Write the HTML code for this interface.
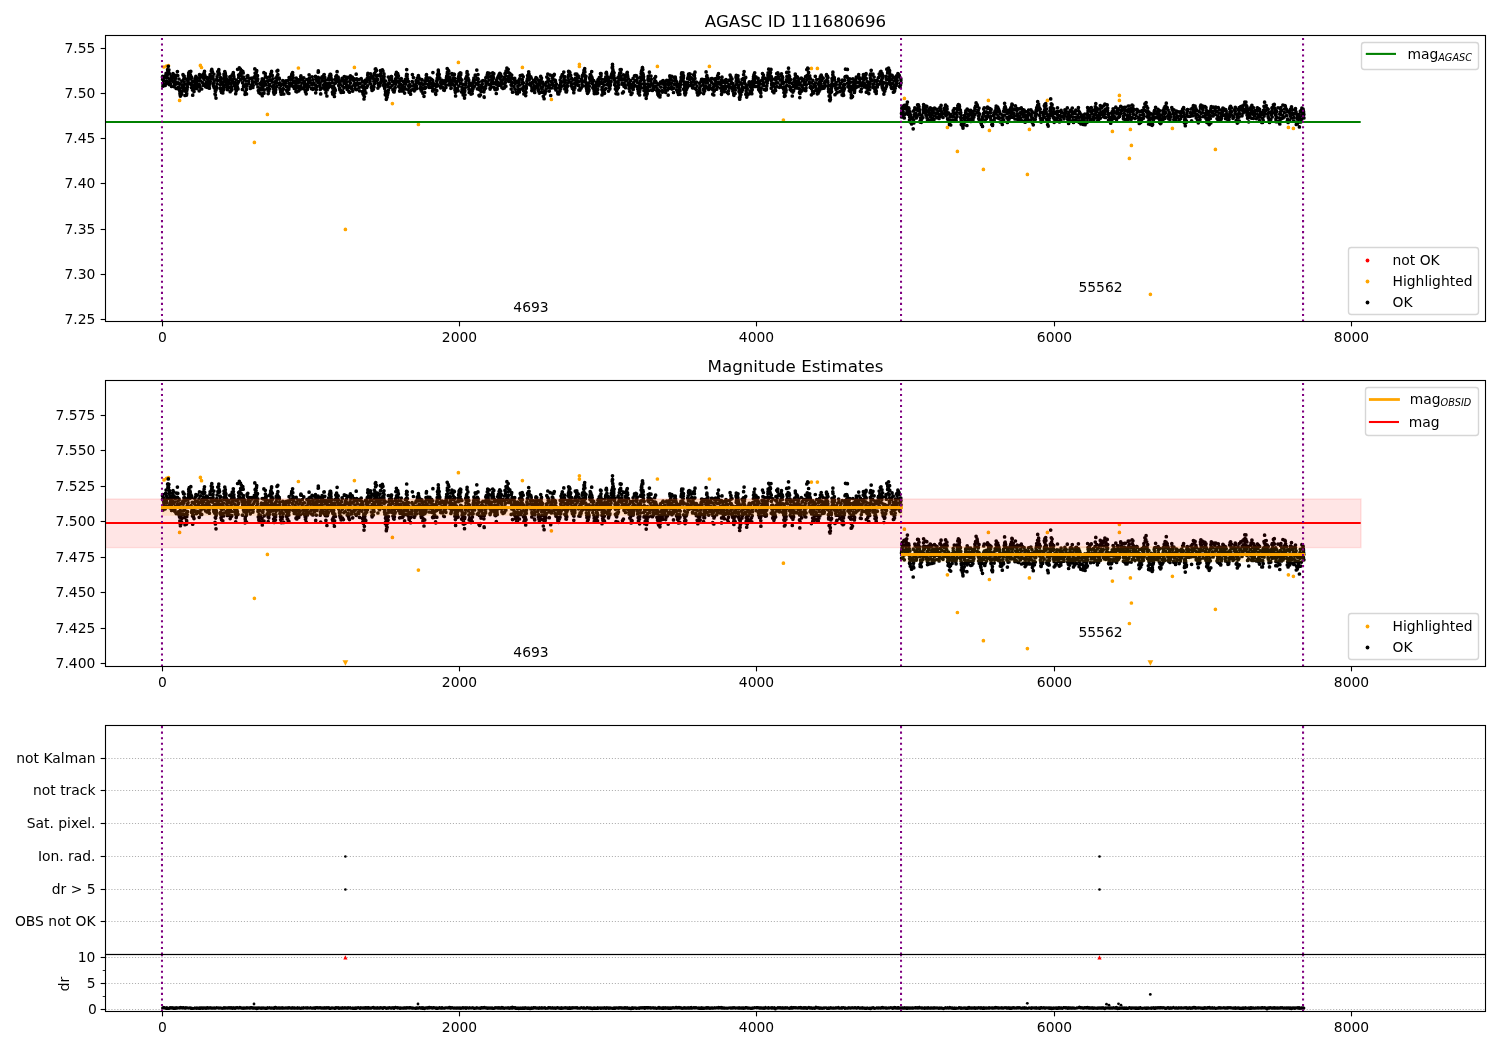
<!DOCTYPE html><html><head><meta charset="utf-8"><style>html,body{margin:0;padding:0;background:#fff}svg{display:block;will-change:transform}</style></head><body>
<svg width="1500" height="1050" viewBox="0 0 1500 1050" style="font-family:'DejaVu Sans',sans-serif">
<defs><clipPath id="c1"><rect x="105.5" y="35.5" width="1380" height="286"/></clipPath><clipPath id="c2"><rect x="105.5" y="380.5" width="1380" height="286"/></clipPath><clipPath id="c3"><rect x="105.5" y="725.5" width="1380" height="229"/></clipPath><clipPath id="c4"><rect x="105.5" y="954.5" width="1380" height="57"/></clipPath></defs>
<rect width="1500" height="1050" fill="#fff"/>
<text x="795.5" y="26.9" text-anchor="middle" font-size="16.67">AGASC ID 111680696</text>
<g clip-path="url(#c1)">
<path transform="scale(.1)" fill="none" stroke="#ffa500" stroke-width="37.0" stroke-linecap="round" d="M1640 670h0m25-10h0m20-5h0m111 349h0m208-350h0m11 21h0m529 749h0m130-280h0m310-464h0m470 1614h0m90-1620h0m380 362h0m260 208h0m400-620h0m640 50h0m290 320h0m280-350h0m0 21h0m780-1h0m520 0h0m740 536h0m280-516h0m60 0h0m870 300h0m430 290h0m100 240h0m260 180h0m50-690h0m10 300h0m380 440h0m20-450h0m180-290h0m650 310h0m70-360h0m0 50h0m110 290h0m10 160h0m-20 130h0m210 1359h0m220-1659h0m430 210h0m730-220h0m50 10h0"/>
<path transform="scale(.1)" fill="none" stroke="#000" stroke-width="37.0" stroke-linecap="round" d="M1625 771h0m1 22h0m1-30h0m2 99h0m2-14h0m3-16h0m2-24h0m14-30h0m2 76h0m4-99h0m5-21h0m3 102h0m3-23h0m5-61h0m1 25h0m3-80h0m3 19h0m4-53h0m3 55h0m3-20h0m4 148h0m1-109h0m1 52h0m2 34h0m8 19h0m6-42h0m1-36h0m4 101h0m13-88h0m1-40h0m2 77h0m6-67h0m6 92h0m3 30h0m4-19h0m2-62h0m2-10h0m4 40h0m3 66h0m3-130h0m9-38h0m4 39h0m4 79h0m2-6h0m3 43h0m3-81h0m1 106h0m5 10h0m2-68h0m1 93h0m2 16h0m3 14h0m6-10h0m3-72h0m3 39h0m1 23h0m1-130h0m2 37h0m6 23h0m2-66h0m2-58h0m5 10h0m1 132h0m3-105h0m1 31h0m1 31h0m1-86h0m3 23h0m2 127h0m2-28h0m1 73h0m15-4h0m1-23h0m1 9h0m1-33h0m1-65h0m1 36h0m1 16h0m1-91h0m3 72h0m3-85h0m3 28h0m3-54h0m1 77h0m2-108h0m1 12h0m5-23h0m3 69h0m3-49h0m4 8h0m5-34h0m1 124h0m1-72h0m3 17h0m1 65h0m1 29h0m1-104h0m6 41h0m3 86h0m2 53h0m9-134h0m2 37h0m2 61h0m5-30h0m4-96h0m3 62h0m4-75h0m3-14h0m3 58h0m3 63h0m7-76h0m6 63h0m4-29h0m5-64h0m5 130h0m2-61h0m1-101h0m5 126h0m4-63h0m2-38h0m11 119h0m6-140h0m3 75h0m6 28h0m2-76h0m5 15h0m2-63h0m4-15h0m2 35h0m5 96h0m5 23h0m6-49h0m2-46h0m1 71h0m5 29h0m3-87h0m12 27h0m5 49h0m1-10h0m2 30h0m4-44h0m1-76h0m2-16h0m4 63h0m3-22h0m5-78h0m4 18h0m1-33h0m6 22h0m5 50h0m2 19h0m2 52h0m1 20h0m4 14h0m1-130h0m3 68h0m4 72h0m4 59h0m3-31h0m1 41h0m2-37h0m4 68h0m1-84h0m1-4h0m1-28h0m3 11h0m2-86h0m2 47h0m1-71h0m5 39h0m2-89h0m2 27h0m6-32h0m2-14h0m3 34h0m5 12h0m5 141h0m1-36h0m2-54h0m1-18h0m3 47h0m2 88h0m6 13h0m3-40h0m9 46h0m3-100h0m3-13h0m1 82h0m1-44h0m1-69h0m1 94h0m2-139h0m1 16h0m7-41h0m5 16h0m1 19h0m5 62h0m1-53h0m3 27h0m2 55h0m5 24h0m3 30h0m2-77h0m10-19h0m3 41h0m5 35h0m5-107h0m3 62h0m1 86h0m2-150h0m2 73h0m8 62h0m1-105h0m2 74h0m1 27h0m1-74h0m3-76h0m3 50h0m8-71h0m1 16h0m4 21h0m2 18h0m1 61h0m5 12h0m1-32h0m7 64h0m3 50h0m5-27h0m1-110h0m8 44h0m3 28h0m2-179h0m1 140h0m3 56h0m5-70h0m1-69h0m1 23h0m6-94h0m4 64h0m7-53h0m1 108h0m1-73h0m6 33h0m2-54h0m8 86h0m2 104h0m2-66h0m2-115h0m4 16h0m2 41h0m1 92h0m3-10h0m4-4h0m3-51h0m5 146h0m2-25h0m8-107h0m2 74h0m1-38h0m1 48h0m1 44h0m3-79h0m3-98h0m2 12h0m5-19h0m6 57h0m2 24h0m12-53h0m5 102h0m1-15h0m12-18h0m4-70h0m2 29h0m3 17h0m4 47h0m3-19h0m5-35h0m7-53h0m4-79h0m1 92h0m2-50h0m5 17h0m5-10h0m1 67h0m2 33h0m1-120h0m2-11h0m7 99h0m1-49h0m3 34h0m1 79h0m4 36h0m5 12h0m1 8h0m9-89h0m5 99h0m1-55h0m4-36h0m6-27h0m3 80h0m5-109h0m1 168h0m4-20h0m2-65h0m6-81h0m2 48h0m2-112h0m1 205h0m2-33h0m2-47h0m1-31h0m8-85h0m1 24h0m7 89h0m7-75h0m1 37h0m3 75h0m6-68h0m3 87h0m1 31h0m6-25h0m2-108h0m3 55h0m1 31h0m2-121h0m1 77h0m9-45h0m1-60h0m8-19h0m1-7h0m5 107h0m2-67h0m3 112h0m3-78h0m4 101h0m1-34h0m2 64h0m3 14h0m3 8h0m3-69h0m8-41h0m1 95h0m1-111h0m1 90h0m2-14h0m4-116h0m1 32h0m2 21h0m3 35h0m2-152h0m3 48h0m5-55h0m1 41h0m4 30h0m9 6h0m2 10h0m1 55h0m3-18h0m1 55h0m6 20h0m2 19h0m2-69h0m3 89h0m9-23h0m3-14h0m4-99h0m3 33h0m1 46h0m6 55h0m2-89h0m17-22h0m2-20h0m4 92h0m2-37h0m8 55h0m3-114h0m6 127h0m6-40h0m1 42h0m1-59h0m1-98h0m1 59h0m6 23h0m4-62h0m9 33h0m3-70h0m4-18h0m2 94h0m6-110h0m2 25h0m1 24h0m2 90h0m4-59h0m8 78h0m7-54h0m7 26h0m1 27h0m2 31h0m2-134h0m3 34h0m3 104h0m7-91h0m3-30h0m8 63h0m2 48h0m4-22h0m2-65h0m3-23h0m7 93h0m2-32h0m1-92h0m2-8h0m12 71h0m3-35h0m8 89h0m6-106h0m5 84h0m2-46h0m3 22h0m3 65h0m4 17h0m3-10h0m4 28h0m4-69h0m3-74h0m6 98h0m2-54h0m9-28h0m4 55h0m1-118h0m1 36h0m7 22h0m10 26h0m7 55h0m3-42h0m2-77h0m3 112h0m4 13h0m2-95h0m10 32h0m2 57h0m10-35h0m3-88h0m2 164h0m3-142h0m3 108h0m5-87h0m2 58h0m10-38h0m1-54h0m1-51h0m1-13h0m1 11h0m4 90h0m5-30h0m7 70h0m1-18h0m1 63h0m3-18h0m2 62h0m14-170h0m2 33h0m6 77h0m1-70h0m6 40h0m3-101h0m3-2h0m6 28h0m1 118h0m5-59h0m1 64h0m2-37h0m1-60h0m1 128h0m10 32h0m5-63h0m1-62h0m3 52h0m3-7h0m2-3h0m1-23h0m3-70h0m3 15h0m4-37h0m2 75h0m5-94h0m5 0h0m3 11h0m1 21h0m3 89h0m6-67h0m3 29h0m2 96h0m3 19h0m1-59h0m4 31h0m5-50h0m5-33h0m2 135h0m2-34h0m1-98h0m1 54h0m4-93h0m2 109h0m1-72h0m3-64h0m5 43h0m3-55h0m5-38h0m11 55h0m4 25h0m1 57h0m5-27h0m3 52h0m2 16h0m3 7h0m2-60h0m1 68h0m5-10h0m3 24h0m4-116h0m6-24h0m4 128h0m1-52h0m8 62h0m5-44h0m1-46h0m3-66h0m3 37h0m3-35h0m11 2h0m3 24h0m1 73h0m1-23h0m4-24h0m3 74h0m8-120h0m1 108h0m8 33h0m1-57h0m5 64h0m5-115h0m4-48h0m1 72h0m3-40h0m4 77h0m4 18h0m7-114h0m4 139h0m11-103h0m1 41h0m3-60h0m4 48h0m4 26h0m2 24h0m1-49h0m9-96h0m1 154h0m4-108h0m4 13h0m5 32h0m4 14h0m10 28h0m2-80h0m3 113h0m4-74h0m13-47h0m5 81h0m6 47h0m1-95h0m1 38h0m2-46h0m2 123h0m5 13h0m4-61h0m2 103h0m1-122h0m3 97h0m4-63h0m2-69h0m6-33h0m2 129h0m7-108h0m2 54h0m5-78h0m1-15h0m2 76h0m2-107h0m2-18h0m15 46h0m5 52h0m2-19h0m4-73h0m3 101h0m3-59h0m3 93h0m4-112h0m1 135h0m2 8h0m12-12h0m3-107h0m1 75h0m1-49h0m2 58h0m3-135h0m3 100h0m4-90h0m1 7h0m2-60h0m3 21h0m1-25h0m5 118h0m2-102h0m1 83h0m11-34h0m1 40h0m2 88h0m2-50h0m3 17h0m12 12h0m4-100h0m4-54h0m1 32h0m3 90h0m2-13h0m5-27h0m9-90h0m6 12h0m2 142h0m1-89h0m5 19h0m1 10h0m1-53h0m1 25h0m2 55h0m2 56h0m3 12h0m3-43h0m2 103h0m1-5h0m1-28h0m2-104h0m6 183h0m1-32h0m2 22h0m5-12h0m5-25h0m3-80h0m2 60h0m1-82h0m1-74h0m1 133h0m4-73h0m5 0h0m2-37h0m1 5h0m7 76h0m8-107h0m4 25h0m1-25h0m4 87h0m6-38h0m3 84h0m7 16h0m2-28h0m3 31h0m3-14h0m4-66h0m2 43h0m1-69h0m1 62h0m2-85h0m3 52h0m1-98h0m6-21h0m1 49h0m12-35h0m1 4h0m1 76h0m2-36h0m3-22h0m3 107h0m7-33h0m2 78h0m4-28h0m2 27h0m3-67h0m3-42h0m5-16h0m5 94h0m4-24h0m1 55h0m7-7h0m2-87h0m11 15h0m1 39h0m2 61h0m7-137h0m4 96h0m1-52h0m4-20h0m2-58h0m2-17h0m1-47h0m3 68h0m2-18h0m2 42h0m8 110h0m1-37h0m1-47h0m7 109h0m2-50h0m5-28h0m7 63h0m1 34h0m1-82h0m14-45h0m3-69h0m1 150h0m1-77h0m6 39h0m2-82h0m6 73h0m3 59h0m5-9h0m2-12h0m11-81h0m1 30h0m3 28h0m5 20h0m3-104h0m9 38h0m2-61h0m4 17h0m9 65h0m1-50h0m8 97h0m1-15h0m4 31h0m1-74h0m2 81h0m5-112h0m10 135h0m3-81h0m4 35h0m4 77h0m1-121h0m6 83h0m1-40h0m1-76h0m7 67h0m1-40h0m3-53h0m3-30h0m2-8h0m8 57h0m5-23h0m4 70h0m9-13h0m1 38h0m2-59h0m5-34h0m7 58h0m9 34h0m1-80h0m5 84h0m5 31h0m1-105h0m1 107h0m1-184h0m1 132h0m1-31h0m16 71h0m9 39h0m2 6h0m2-103h0m2 27h0m5-56h0m1 96h0m1-94h0m1-11h0m2-19h0m2 62h0m1-100h0m3 16h0m4-27h0m1-32h0m1 19h0m5 39h0m3-16h0m2 114h0m1-68h0m3-9h0m8 43h0m1 54h0m1-27h0m13-47h0m6 2h0m1 70h0m3-39h0m6 63h0m6 3h0m1-95h0m9 15h0m6 53h0m1-22h0m4-74h0m2 31h0m1-49h0m5-77h0m1 51h0m1-14h0m6 34h0m2-55h0m2 33h0m4-22h0m1 78h0m1 53h0m3 7h0m3-35h0m2-39h0m7 23h0m4 84h0m2-38h0m1 35h0m7-145h0m1 12h0m1 74h0m12-15h0m1-26h0m4 69h0m2-108h0m4 3h0m1 38h0m2 79h0m2 40h0m1-18h0m2-70h0m2 110h0m2 36h0m10-122h0m5 72h0m3-24h0m6-98h0m1 120h0m2-99h0m3-42h0m2 95h0m1-104h0m2-16h0m4-5h0m7 40h0m1-48h0m3 103h0m1-84h0m1-16h0m3 63h0m1 40h0m4 85h0m3-118h0m1 71h0m1 23h0m10 46h0m1 8h0m7-106h0m6 138h0m1-64h0m2-9h0m2 40h0m1-67h0m4-33h0m2-61h0m2 49h0m1-20h0m1-20h0m4-28h0m3-6h0m2-32h0m1-13h0m8 29h0m2 36h0m2 85h0m5-66h0m1 91h0m3 32h0m1-70h0m2-25h0m12 26h0m3 86h0m4-42h0m8 37h0m2-30h0m1-39h0m1-35h0m5 53h0m1-66h0m4-17h0m3-22h0m4 26h0m3 55h0m6-109h0m3 7h0m7 77h0m6-135h0m2 95h0m3 92h0m5-103h0m2-39h0m1 100h0m1-55h0m4 31h0m2 55h0m2 76h0m4-57h0m2 63h0m8-11h0m6-35h0m4-61h0m1 27h0m4-67h0m4 29h0m2 32h0m5-66h0m9 111h0m2 51h0m1 4h0m1-76h0m11-86h0m1 62h0m1 8h0m2-103h0m1 77h0m1-17h0m3-68h0m9 53h0m1-77h0m4-18h0m7 41h0m5 31h0m4-66h0m1 113h0m6 37h0m1 7h0m3-8h0m6-17h0m1-100h0m2 63h0m7-43h0m3 49h0m1-29h0m3-78h0m1 21h0m3 10h0m1 13h0m4 7h0m2-42h0m1 136h0m7-38h0m2-7h0m1 65h0m6 4h0m8 38h0m2-133h0m2 42h0m4 36h0m1 11h0m5-114h0m3 47h0m4-62h0m1 90h0m6-107h0m7-12h0m1 98h0m5-40h0m2-49h0m4 110h0m3-89h0m4 50h0m2 62h0m7-39h0m4 48h0m3-89h0m9 84h0m2-107h0m3 101h0m3-136h0m2 119h0m1-32h0m2-68h0m4 106h0m1-150h0m5 82h0m4-113h0m12 42h0m1-30h0m2 71h0m3 49h0m9-33h0m2-47h0m8 80h0m5 34h0m1 43h0m3-36h0m2-103h0m3 75h0m1-45h0m4 141h0m15-57h0m1-68h0m6-14h0m2 108h0m2-53h0m2-14h0m7 96h0m6 16h0m7-126h0m2 127h0m4-73h0m3 30h0m1-65h0m8-8h0m3 98h0m2-130h0m4 61h0m3-94h0m6 134h0m13-140h0m1 46h0m2 24h0m4 15h0m1 43h0m2-111h0m2 62h0m1 76h0m3-38h0m1 72h0m14-31h0m4 48h0m3-33h0m3-40h0m1-19h0m4-22h0m1-29h0m1-6h0m4-19h0m2-33h0m3 11h0m6-22h0m2-26h0m4 24h0m2 54h0m3 47h0m7-12h0m5-62h0m2 86h0m2-75h0m6 126h0m1-30h0m1 7h0m4-52h0m1-7h0m10-20h0m11 55h0m1 66h0m2-33h0m8-70h0m1-39h0m2-6h0m8 6h0m5 92h0m3-30h0m7-44h0m1 106h0m3-9h0m3 22h0m4 11h0m1-108h0m2 26h0m6-11h0m4-74h0m3 110h0m2-82h0m3-11h0m1 140h0m6-33h0m4-68h0m1 49h0m6 94h0m3-37h0m2-82h0m3 143h0m7-75h0m1 26h0m3-10h0m6-15h0m3-24h0m1-33h0m2-33h0m4-53h0m9 11h0m1-41h0m3 77h0m1-18h0m4-8h0m3 83h0m4 37h0m1-62h0m8-98h0m5 204h0m7-75h0m1-66h0m5 28h0m3-62h0m3 55h0m2-52h0m2-27h0m5 97h0m3-98h0m5-11h0m2 56h0m4 83h0m4-80h0m2 12h0m4 84h0m1-25h0m5-32h0m13 82h0m1 14h0m8 2h0m3-61h0m3 40h0m4-63h0m3 51h0m2-107h0m4 43h0m1-19h0m1 61h0m2-112h0m2 94h0m6-107h0m5-14h0m1 1h0m7 72h0m7-98h0m1 78h0m1 57h0m5-65h0m1-25h0m2 123h0m1-63h0m4-24h0m7 116h0m4 2h0m1-61h0m2 15h0m1 30h0m7-42h0m5-34h0m1-55h0m3-18h0m2-41h0m1 88h0m2-59h0m2-28h0m4 3h0m4 8h0m8 27h0m3 67h0m1 35h0m5-72h0m2 55h0m1 31h0m5 14h0m8-85h0m2 98h0m4 31h0m2-27h0m7-67h0m1 46h0m1-14h0m4-123h0m2 38h0m1 21h0m9 44h0m3-105h0m4 72h0m6-56h0m5 5h0m1 17h0m1 76h0m2-36h0m2 82h0m11 1h0m1-21h0m7 6h0m3-75h0m1 68h0m3-87h0m5 51h0m2-80h0m2-8h0m3-3h0m3 62h0m1 45h0m6-132h0m3-24h0m5-1h0m2-15h0m2 34h0m1 36h0m4 33h0m1-5h0m2 33h0m3-55h0m1 70h0m2 24h0m1 23h0m4 16h0m1 13h0m6 24h0m7-10h0m6-15h0m1-6h0m1-7h0m1-66h0m2 33h0m3-84h0m3 15h0m2-27h0m1-21h0m5 6h0m3 5h0m5 48h0m2-88h0m1 54h0m4 13h0m3 54h0m3 41h0m5-14h0m4-57h0m2 88h0m3 19h0m1 22h0m8-60h0m2-19h0m11-24h0m3 101h0m2-114h0m1 36h0m2 48h0m3 27h0m3-37h0m1-94h0m4-7h0m4 22h0m1 43h0m4-11h0m1-70h0m8-6h0m4-36h0m5 23h0m1-21h0m3 86h0m2 9h0m1-39h0m2 102h0m1 54h0m1-73h0m1-2h0m5 41h0m2 12h0m12-76h0m3 49h0m1 33h0m2-118h0m2-23h0m8 94h0m1-117h0m2-37h0m4-9h0m2 11h0m3 21h0m4 89h0m2 6h0m1-38h0m7-35h0m1 15h0m1 119h0m7-31h0m6 11h0m1-7h0m5-31h0m1-22h0m6-14h0m1-61h0m4 23h0m2-41h0m4-61h0m1 52h0m1-61h0m1-24h0m1 23h0m1 48h0m1-21h0m4 18h0m6 42h0m1 17h0m2-43h0m2 70h0m3 49h0m2-60h0m2 39h0m4 63h0m1-32h0m5 79h0m2-118h0m3 86h0m2 1h0m9-19h0m2 53h0m2-162h0m2 50h0m1-55h0m1 103h0m3-23h0m3-50h0m3-52h0m4-18h0m5-37h0m5 28h0m4 36h0m1-63h0m4 89h0m3 13h0m1 35h0m2 9h0m3 88h0m9-11h0m1-171h0m5 115h0m2-32h0m4 21h0m2-71h0m1 18h0m6 78h0m5-123h0m2 50h0m7-72h0m4-8h0m2 28h0m2 12h0m2 84h0m2-16h0m3-43h0m7 98h0m3-25h0m4 51h0m2-93h0m4-13h0m7 137h0m3-97h0m2 33h0m5 50h0m10-146h0m1 110h0m3-21h0m2-49h0m8-65h0m3 94h0m3-45h0m7-52h0m7 2h0m5 41h0m1 66h0m3-86h0m2 108h0m1-60h0m5 84h0m2 21h0m3 4h0m8-16h0m1 30h0m1-111h0m1 63h0m5-43h0m1-87h0m3 33h0m1 74h0m1-112h0m2-32h0m3-19h0m1 122h0m2-130h0m1 9h0m2-19h0m4-21h0m1-1h0m3 18h0m1 42h0m3 9h0m1 40h0m3-18h0m2 110h0m2 28h0m2-99h0m1 28h0m2 14h0m3 101h0m4-15h0m3-45h0m7 94h0m4-30h0m3-77h0m2 45h0m1 16h0m2-97h0m3 39h0m2-79h0m2-17h0m1-20h0m1 44h0m1 40h0m1 58h0m9-183h0m2 36h0m4 106h0m7-52h0m3-51h0m2 139h0m1-107h0m1 43h0m10 68h0m3-54h0m8 29h0m1 15h0m9-68h0m1-12h0m1-31h0m8 84h0m1-100h0m1 46h0m3 8h0m5 9h0m4 78h0m1 2h0m1-27h0m5 43h0m3 18h0m3-96h0m3 56h0m1 53h0m3-32h0m5-16h0m1-72h0m4 132h0m2-19h0m4-128h0m3 49h0m14 36h0m2-95h0m1 109h0m2-84h0m4-31h0m7 37h0m2-22h0m3 54h0m6 17h0m2-29h0m5 60h0m2-84h0m9-35h0m8 95h0m7 52h0m1-73h0m2-34h0m1-29h0m4 70h0m1-82h0m7-44h0m3 13h0m10 23h0m3 37h0m1 35h0m3-103h0m2 127h0m10-8h0m5 42h0m1-45h0m3-73h0m5-33h0m2 70h0m7-72h0m2 17h0m6 21h0m4 88h0m2-80h0m3 47h0m3 43h0m4 15h0m1-81h0m7 102h0m11-53h0m3 51h0m1-36h0m2-37h0m4-50h0m1 25h0m2-38h0m2-29h0m1-7h0m3-29h0m2-12h0m12-1h0m3 60h0m2-16h0m1-15h0m1 135h0m5-74h0m1 28h0m4 22h0m1 64h0m1-21h0m3 37h0m2-8h0m5-12h0m5-30h0m4-7h0m1-67h0m5 52h0m2-25h0m1-66h0m4 41h0m2-56h0m3-20h0m1-8h0m4 115h0m2-118h0m3 53h0m6-51h0m7 36h0m1 75h0m5-68h0m1 39h0m10 54h0m1 3h0m4-86h0m1 61h0m4-107h0m7 70h0m1-77h0m1 16h0m5 27h0m1-62h0m2 114h0m3 48h0m8 13h0m1-77h0m7 41h0m1 66h0m6 22h0m11-8h0m5-110h0m3 55h0m1 20h0m4 20h0m5-65h0m4-47h0m5-21h0m9 1h0m4 55h0m6 45h0m1 42h0m1-121h0m2 95h0m4-31h0m3 32h0m3-18h0m2-98h0m4 66h0m3-36h0m3-106h0m6 44h0m2-8h0m6 119h0m2-44h0m1-49h0m1 16h0m8 97h0m1-29h0m12-9h0m6-52h0m7 82h0m1-99h0m3 38h0m6-38h0m4 155h0m1-45h0m8-26h0m1-28h0m1 107h0m2-38h0m4-6h0m4-108h0m7-12h0m2 28h0m4 35h0m6 43h0m5-28h0m5-107h0m2 30h0m4 47h0m2-99h0m1 39h0m4 49h0m13 57h0m4-34h0m4-5h0m3-40h0m1 142h0m1-31h0m4-140h0m1 52h0m3 49h0m5 11h0m11-21h0m3 54h0m3-111h0m3 55h0m3-31h0m1 59h0m7-94h0m11 30h0m3 40h0m1 59h0m8 12h0m2-28h0m4-60h0m3 30h0m1-76h0m8-51h0m6 123h0m1-106h0m2 3h0m2 49h0m5 14h0m3-45h0m3 103h0m5 17h0m2-73h0m4 23h0m3 77h0m1 14h0m1 3h0m12-18h0m1-57h0m1 23h0m7-130h0m1 7h0m1 34h0m1-59h0m2 47h0m1 44h0m13-60h0m1-26h0m1 36h0m4 82h0m1-23h0m2-37h0m2 98h0m1-17h0m3 78h0m2-50h0m1 67h0m3-47h0m1 26h0m1-13h0m7-12h0m2-117h0m6 11h0m3 73h0m1-120h0m1 88h0m2-12h0m1 28h0m9-113h0m2-39h0m5-29h0m3 88h0m1 23h0m2-38h0m3 47h0m5 40h0m2-102h0m1 169h0m2-79h0m2 47h0m1 21h0m4 39h0m5-87h0m1 67h0m5-101h0m10 89h0m2-115h0m3-5h0m6 89h0m4-64h0m2 20h0m4 10h0m6 37h0m2-93h0m1 119h0m4-39h0m3-26h0m2-20h0m7-63h0m1-22h0m5-20h0m3 117h0m1-64h0m1 29h0m2-101h0m5 38h0m9 6h0m1 93h0m2-85h0m7 44h0m10-41h0m3 25h0m3 86h0m2-48h0m4 31h0m2 32h0m1-97h0m10 96h0m2 21h0m1 35h0m2-86h0m1-38h0m8-40h0m5-65h0m1 68h0m3-27h0m5-26h0m3 81h0m1 25h0m4 39h0m5-113h0m8 119h0m7-86h0m1 83h0m1-8h0m3-28h0m1-4h0m4-72h0m1 43h0m5-25h0m1-46h0m1-13h0m1-17h0m6-36h0m11 91h0m3-33h0m2-31h0m2 5h0m5-30h0m2 188h0m1-115h0m2 39h0m1 27h0m1 16h0m1-47h0m9 111h0m2-122h0m4 44h0m4 26h0m2 66h0m12-33h0m5 11h0m2-103h0m1-26h0m2 56h0m6-96h0m1 131h0m6-80h0m4-59h0m1 100h0m2-85h0m3 30h0m11 100h0m9-21h0m1-52h0m8-46h0m2-16h0m4 47h0m1 42h0m3-32h0m1-28h0m2 109h0m1-100h0m5 46h0m2 11h0m2 39h0m1 20h0m2 33h0m5 38h0m3-25h0m4 19h0m5-90h0m1 17h0m1-13h0m1 49h0m2-18h0m3-84h0m1-21h0m2-73h0m1 129h0m1-89h0m3 6h0m10-48h0m3-40h0m1 116h0m2-78h0m3 36h0m4 72h0m1-61h0m1 99h0m5 29h0m4-98h0m4 81h0m1 25h0m6 7h0m3-77h0m3 127h0m6-39h0m5-59h0m2 45h0m5-89h0m1-26h0m1 63h0m5-69h0m3 92h0m1-77h0m1-60h0m1 12h0m6 78h0m5 48h0m3-114h0m7 7h0m1 77h0m4-36h0m7 70h0m1-91h0m2 30h0m5 102h0m2-31h0m1 83h0m2-42h0m1-103h0m3 18h0m9-67h0m4 129h0m5-41h0m4-63h0m10 82h0m1-95h0m2 51h0m5-16h0m8 75h0m1-83h0m3-55h0m2 140h0m3-25h0m1-32h0m6-153h0m3 99h0m2-42h0m4-71h0m4 4h0m5 38h0m3 43h0m2 54h0m1 11h0m5-74h0m2 20h0m2 95h0m3-85h0m2 75h0m8 85h0m1-120h0m1 59h0m10 26h0m1 21h0m2-131h0m2 70h0m4 58h0m5-84h0m13-84h0m1 66h0m1 76h0m1-41h0m7 31h0m4-99h0m2 94h0m4 48h0m10-7h0m2-92h0m4 75h0m2-91h0m4 49h0m1-84h0m3 110h0m5-132h0m7 73h0m1-88h0m4 54h0m3-36h0m5 98h0m2 16h0m6-101h0m9 99h0m2-8h0m3-43h0m2 22h0m2-35h0m14-66h0m1-4h0m1 12h0m1 41h0m5-26h0m2-14h0m2 99h0m1-51h0m2 14h0m1-46h0m4 115h0m2 22h0m1 5h0m2-64h0m2 107h0m5 41h0m3-50h0m1 55h0m3-33h0m1 20h0m5-70h0m4-33h0m2-12h0m1 36h0m2-76h0m1 22h0m1-74h0m1 24h0m7-66h0m1-23h0m1 34h0m13 21h0m2 21h0m4 42h0m1 107h0m1-85h0m6 21h0m3-59h0m1 71h0m2-51h0m5 84h0m2-1h0m10-46h0m6-89h0m3 18h0m8 36h0m1 70h0m1-44h0m6-37h0m11 72h0m5 42h0m2-148h0m2 80h0m1-70h0m4 144h0m1-20h0m3-86h0m1 63h0m1 40h0m5-94h0m1 35h0m2-10h0m2-80h0m2 41h0m2-73h0m4-6h0m1-73h0m12 72h0m3 3h0m3 6h0m1-79h0m2 137h0m3 37h0m4-67h0m5 55h0m5 51h0m4-26h0m1-92h0m2 37h0m4-6h0m1 43h0m1 55h0m6 59h0m1-29h0m4 26h0m5-80h0m3 70h0m3-95h0m1-81h0m1 34h0m3 30h0m11 73h0m1-11h0m1-7h0m3-76h0m5 48h0m1-80h0m1 58h0m7-85h0m1 100h0m10-5h0m2-44h0m9 39h0m2-115h0m1 36h0m3-10h0m5 46h0m5 19h0m3 75h0m2-125h0m6 128h0m1-26h0m4-35h0m13-32h0m2-56h0m2-22h0m3 53h0m4 37h0m2 34h0m11-93h0m6-33h0m1-6h0m1 47h0m1 138h0m3-69h0m2 28h0m3-65h0m11 85h0m6 35h0m3-101h0m4 30h0m2 31h0m3-77h0m1-67h0m1 87h0m1-58h0m1 4h0m3-47h0m5-35h0m4 103h0m3-5h0m4-52h0m6 125h0m1-132h0m2 122h0m4-26h0m5-67h0m6 36h0m2 89h0m1 20h0m5-43h0m2 24h0m4 28h0m1 10h0m1-24h0m4-96h0m3 30h0m2-41h0m1 66h0m8-24h0m1-65h0m3-6h0m7-34h0m4 97h0m2-79h0m6-40h0m1 96h0m5-102h0m8 81h0m2-61h0m1 130h0m2 15h0m2-23h0m1-103h0m1 26h0m1 62h0m3 58h0m2-73h0m1 56h0m5 60h0m5-27h0m4-4h0m1-82h0m7 58h0m4-123h0m2 69h0m1-39h0m2 70h0m3-171h0m8 38h0m2-17h0m1 124h0m7-155h0m1 109h0m5-26h0m2 41h0m1 12h0m1-111h0m2 30h0m8 111h0m2-90h0m4 116h0m4 10h0m1-90h0m4-41h0m2 81h0m10-62h0m1 150h0m2-46h0m2 45h0m2-73h0m4-38h0m1 102h0m3-18h0m4-12h0m4-91h0m6 64h0m3-96h0m2 77h0m3-53h0m2 23h0m7-71h0m4 6h0m8 10h0m4 12h0m1 101h0m5-31h0m1 38h0m3-22h0m3-64h0m1 16h0m1 27h0m5 308h0m1 33h0m1-46h0m1-41h0m2 29h0m1-10h0m1-32h0m9 46h0m8-58h0m1 25h0m1 65h0m2 32h0m4-126h0m7 88h0m9-50h0m4-46h0m1 28h0m1 50h0m5-102h0m11 124h0m2-67h0m3 10h0m2 20h0m3 93h0m1-31h0m3-47h0m4 97h0m1-74h0m3 25h0m9 68h0m11-50h0m5 99h0m1-177h0m2 90h0m3 29h0m3-70h0m1-15h0m6-66h0m10 55h0m5 46h0m1-84h0m7 67h0m5-114h0m6 57h0m1-31h0m1-26h0m6 18h0m2 79h0m1-52h0m2 16h0m1 26h0m5 72h0m1 13h0m4-40h0m7 42h0m3-30h0m3-39h0m10 22h0m2-80h0m3 27h0m1-52h0m1-26h0m16 14h0m2 35h0m5 53h0m1-33h0m4 46h0m4-97h0m2 117h0m4 9h0m1 20h0m13-88h0m1-30h0m1 56h0m2 58h0m11-126h0m3 92h0m5-75h0m3 34h0m3 13h0m1 59h0m3-114h0m2 90h0m7-69h0m9 88h0m2-72h0m2 35h0m2-78h0m13 8h0m9 49h0m2 38h0m1-83h0m4 18h0m16 28h0m1 45h0m6-20h0m2-88h0m7 28h0m3-24h0m2-27h0m5 93h0m3-23h0m11 51h0m12-76h0m4-18h0m3 61h0m5-14h0m1-75h0m1-2h0m6 106h0m5-44h0m2-46h0m2 22h0m5 100h0m5 25h0m3-85h0m5 8h0m6 107h0m5-81h0m2 36h0m3 15h0m2 36h0m3-104h0m3 16h0m8 40h0m11-96h0m1 15h0m1 45h0m9-81h0m1 50h0m7 64h0m9-12h0m1 17h0m1-25h0m4-36h0m2-58h0m1 37h0m2 42h0m2-65h0m5-41h0m6-13h0m8 41h0m1-34h0m2 15h0m6 67h0m3-32h0m3 72h0m1-49h0m1 23h0m1 39h0m2 15h0m1 42h0m1-34h0m5 19h0m5 30h0m5 16h0m1 6h0m8-32h0m3-74h0m1 49h0m1-67h0m5 40h0m8-69h0m2-19h0m1 65h0m9-36h0m1 117h0m2-44h0m1-121h0m10 11h0m3 107h0m2-54h0m1 35h0m5-82h0m7 30h0m7-33h0m1 111h0m2-26h0m8-36h0m1 59h0m5-86h0m5 77h0m5-21h0m5-12h0m1-58h0m9-33h0m1 66h0m1-53h0m5-30h0m5-33h0m9 16h0m2 6h0m1 73h0m1-63h0m8 42h0m3 59h0m2 24h0m1-54h0m2-51h0m3 120h0m3-60h0m9 77h0m4 9h0m6 17h0m1-35h0m7-40h0m1 13h0m1 82h0m10-124h0m1-7h0m1-42h0m5-12h0m2 44h0m4 91h0m5-13h0m5-37h0m5-46h0m2 68h0m7-61h0m1-43h0m2-11h0m2 97h0m2-29h0m4-61h0m1 7h0m12 40h0m3-39h0m5 42h0m1 53h0m1-15h0m1-60h0m2 95h0m2-107h0m7 151h0m6-24h0m1 33h0m1-8h0m8-92h0m5-26h0m3 71h0m6-20h0m3-71h0m9-28h0m1 60h0m1-80h0m5 58h0m10-46h0m3 108h0m2-18h0m1-75h0m3 96h0m3-84h0m4 12h0m6 20h0m1 50h0m3 38h0m15-2h0m1-69h0m4 97h0m7-72h0m2 21h0m3-82h0m1 92h0m7-116h0m2 62h0m1-117h0m1 38h0m5-4h0m4 13h0m3 32h0m3-14h0m7 82h0m1-5h0m2-39h0m2 89h0m7-31h0m2-88h0m7 86h0m8-32h0m1-63h0m1 27h0m8-46h0m5 94h0m2-107h0m2 45h0m1 30h0m1-98h0m4 3h0m3 43h0m11 85h0m1-43h0m5-37h0m3 62h0m3 35h0m5-131h0m15 46h0m3-19h0m1 106h0m1-56h0m4 30h0m8 29h0m6-106h0m6 68h0m6 22h0m1-53h0m8-47h0m2 61h0m1 65h0m8-110h0m8 3h0m2 22h0m1 49h0m6-68h0m4 49h0m4 57h0m2 15h0m4-105h0m6 95h0m2-55h0m2 20h0m10-3h0m3 13h0m6-62h0m1 22h0m1-45h0m6 103h0m13 1h0m4-108h0m3 60h0m1-17h0m5 38h0m1-66h0m5 114h0m2-44h0m7 65h0m11-38h0m3-81h0m5 28h0m1 36h0m5-30h0m3-59h0m4-10h0m2-19h0m1 65h0m3-36h0m5-50h0m1-37h0m9 24h0m1 17h0m7 21h0m3 75h0m5-62h0m2 88h0m1-57h0m2 64h0m1 30h0m1-20h0m2 24h0m15-19h0m7-56h0m2-23h0m1 46h0m5 5h0m2-116h0m1 47h0m2-8h0m1-31h0m2-22h0m8-7h0m2 18h0m2 62h0m2 15h0m1-44h0m3 54h0m1 54h0m1 6h0m4-41h0m3 85h0m2 2h0m1-39h0m3 52h0m10-50h0m1-28h0m5-23h0m1-51h0m2 29h0m2-60h0m2 9h0m2-98h0m6 49h0m3 27h0m5-18h0m2 72h0m2-39h0m2 73h0m6 22h0m3-62h0m1-25h0m4 102h0m1 33h0m5-45h0m4 38h0m2-81h0m11 69h0m5-88h0m5 31h0m1-69h0m2 96h0m5-57h0m7 97h0m5 5h0m7-64h0m1 37h0m7 20h0m2-109h0m4 21h0m7 40h0m13-34h0m5 58h0m5-30h0m4-59h0m1 29h0m12-14h0m10 54h0m1-89h0m4 114h0m2-47h0m4 60h0m3 28h0m5-82h0m2 36h0m1-68h0m2 92h0m7-107h0m4 57h0m1-60h0m15-21h0m4 53h0m1-16h0m1 81h0m1-27h0m5 52h0m13-13h0m1-76h0m2-8h0m7-25h0m1 71h0m2 27h0m19-52h0m4-72h0m2 32h0m2 68h0m2 33h0m1 14h0m4-101h0m6 12h0m7 104h0m6-18h0m1-53h0m7 26h0m7-42h0m1 92h0m8-43h0m6-26h0m3 43h0m2-77h0m2 107h0m17-66h0m1 43h0m5-7h0m1-80h0m1-62h0m1 82h0m1 24h0m2-80h0m1 11h0m9-28h0m6 82h0m2-12h0m8 43h0m4-83h0m3-37h0m6 59h0m12 38h0m2-68h0m4 88h0m4-46h0m8 32h0m2-88h0m2-26h0m5-30h0m1 90h0m10-44h0m1 30h0m3 43h0m1 55h0m5-27h0m8 11h0m7-41h0m1-18h0m3-46h0m5-34h0m2 126h0m3-61h0m9-42h0m7 64h0m9-29h0m1 52h0m3-107h0m9 115h0m1-31h0m2-101h0m3 54h0m6 80h0m1-64h0m12-31h0m1-31h0m3 53h0m1 5h0m1-26h0m5 64h0m1-12h0m3 69h0m1 2h0m1-42h0m8 30h0m11 40h0m7-101h0m2 70h0m3-31h0m4-55h0m3 33h0m5-60h0m3 98h0m7-75h0m7 57h0m5-38h0m5-58h0m8 123h0m7-57h0m1-47h0m3 17h0m5-19h0m2 86h0m7-42h0m5 32h0m11-101h0m2 73h0m2-35h0m10 1h0m4-26h0m9 111h0m2-24h0m6-31h0m2-59h0m4 72h0m2 49h0m2-93h0m1-29h0m6 133h0m11-1h0m4-32h0m2-60h0m1 35h0m4 46h0m1-134h0m2 36h0m5 68h0m2-104h0m7 88h0m5-29h0m7-30h0m2 104h0m9-142h0m2 125h0m6-118h0m1 27h0m2 30h0m2 28h0m1-52h0m15 93h0m11-32h0m3-57h0m5 0h0m1 28h0m2-26h0m12 82h0m4 32h0m5 24h0m1-121h0m6 37h0m7 73h0m4-39h0m5 24h0m4-102h0m5 12h0m5 30h0m4 33h0m3-35h0m2-71h0m2 86h0m7-56h0m1-67h0m3 21h0m6-10h0m3-25h0m3 91h0m3-52h0m6 60h0m2 46h0m1-24h0m1-65h0m1 33h0m5 103h0m3 23h0m3-120h0m1 70h0m1-37h0m4 51h0m5 39h0m7-60h0m7-45h0m8 115h0m2-28h0m1 15h0m1 5h0m4-78h0m2 37h0m3-9h0m7-82h0m2 27h0m2-37h0m10-30h0m2 103h0m16-57h0m3 26h0m3 34h0m1-85h0m10 48h0m3 51h0m2 33h0m1-58h0m3-60h0m5 128h0m5-6h0m5-79h0m7 54h0m4-18h0m4 9h0m2-66h0m1-28h0m9-19h0m1-5h0m2 92h0m1-33h0m4 46h0m1-119h0m4 62h0m3-37h0m3-24h0m2-33h0m9 43h0m6 84h0m4-58h0m5 87h0m2-49h0m5-14h0m6 70h0m2-49h0m5 22h0m11-92h0m3 18h0m8 17h0m4 21h0m5 63h0m1-97h0m2 52h0m2 22h0m13 36h0m3-75h0m6-22h0m7 66h0m4-17h0m4-41h0m10-1h0m2 85h0m12-16h0m1-57h0m1 25h0m11-45h0m1 56h0m9-76h0m3 29h0m4 5h0m1-33h0m1-15h0m5 76h0m3 75h0m1-32h0m2 24h0m3-48h0m3 86h0m4-62h0m6 27h0m2-9h0m4-110h0m1 29h0m3-37h0m2 12h0m1 54h0m1-65h0m14 67h0m15-36h0m1 34h0m4-71h0m5 118h0m6-77h0m2-51h0m4 77h0m6-101h0m2 50h0m11 16h0m4-60h0m6 88h0m2-63h0m3 92h0m4-76h0m6 41h0m4 60h0m7 24h0m5-25h0m4-91h0m1 53h0m6 11h0m1 20h0m4-130h0m1 13h0m4-28h0m1 85h0m13-77h0m4 67h0m2-27h0m2 67h0m3-102h0m16 3h0m2 86h0m2-20h0m5 49h0m1-105h0m6 29h0m1 116h0m1-24h0m12 33h0m1-82h0m2-32h0m3 82h0m5-22h0m1 69h0m8-125h0m1 35h0m2 29h0m2-78h0m3 123h0m1-147h0m4-18h0m12 7h0m1 56h0m5 32h0m5-89h0m1 40h0m14 34h0m1-44h0m6-29h0m7 44h0m5 69h0m6 8h0m2-34h0m5-82h0m3 91h0m3-37h0m2-36h0m3 106h0m13 10h0m1-2h0m5-22h0m1-86h0m1 76h0m1-30h0m6-22h0m7-44h0m2 27h0m5-23h0m5 67h0m14 34h0m1-90h0m6 13h0m2 24h0m9 34h0m7 41h0m5-60h0m2 57h0m3-13h0m6-108h0m1 80h0m2-45h0m2-50h0m5-5h0m7 83h0m1-69h0m1 38h0m15 67h0m3-6h0m1-10h0m11-71h0m5 41h0m2-22h0m1-42h0m9 133h0m8-53h0m1 21h0m2 57h0m7-9h0m1-126h0m2 42h0m1 39h0m5-7h0m2-61h0m1-33h0m1 135h0m2-75h0m12-71h0m2 23h0m11 70h0m6-99h0m1 45h0m3 26h0m8-40h0m2-41h0m8-29h0m8 99h0m3-99h0m1 30h0m3 38h0m2-29h0m4 6h0m1 86h0m6 31h0m1-76h0m8 22h0m2 90h0m2-126h0m1 84h0m6-22h0m14-82h0m4 33h0m2 32h0m1 45h0m2-129h0m11 89h0m3-66h0m1 107h0m8-59h0m3 29h0m4-48h0m15 81h0m3-46h0m5-62h0m2 97h0m1-97h0m2 29h0m10-20h0m5 61h0m3 58h0m1-113h0m5 76h0m2-48h0m11 26h0m4 78h0m7-1h0m2-39h0m5 18h0m2-73h0m1-26h0m5-41h0m1 98h0m3-90h0m2-49h0m1 112h0m2-74h0m7 45h0m6-49h0m10 28h0m5 58h0m4 24h0m1-73h0m1 81h0m3-49h0m4 72h0m5 27h0m13-30h0m5-76h0m1 31h0m5-68h0m2 26h0m1 63h0m1-95h0m11-27h0m8 80h0m1-84h0m1 35h0m12 72h0m1-48h0m1 113h0m1-27h0m2-48h0m3 28h0m2-55h0m6 103h0m8-139h0m13 100h0m4-37h0m1 99h0m1-31h0m4-90h0m2-32h0m2 56h0m2-67h0m7 110h0m1-82h0m10 51h0m2-105h0m1 129h0m11-8h0m3-45h0m3-38h0m2-33h0m4 5h0m3 17h0m10 78h0m1-60h0m3 23h0m3 93h0m4-20h0m4 33h0m11-110h0m5 97h0m2-76h0m4 24h0m3-67h0m7 88h0m2-111h0m3 61h0m6-32h0m5 48h0m8 63h0m2-36h0m9-40h0m6-31h0m1-17h0m3 53h0m3-17h0m2 123h0m3-24h0m5-34h0m2 52h0m3-75h0m8 25h0m1 34h0m5-78h0m4 125h0m3-98h0m6-59h0m4 107h0m7-26h0m2-72h0m3-39h0m5 70h0m7-60h0m2 15h0m1 58h0m1-49h0m1 15h0m2 13h0m1 35h0"/>
<line x1="105.5" y1="122" x2="1360.7" y2="122" stroke="#008000" stroke-width="2.083"/>
<line x1="161.99" y1="321.5" x2="161.99" y2="35.5" stroke="#800080" stroke-width="2.083" stroke-dasharray="2.083 3.437"/><line x1="901.02" y1="321.5" x2="901.02" y2="35.5" stroke="#800080" stroke-width="2.083" stroke-dasharray="2.083 3.437"/><line x1="1303.05" y1="321.5" x2="1303.05" y2="35.5" stroke="#800080" stroke-width="2.083" stroke-dasharray="2.083 3.437"/>
</g>
<text x="531" y="311.8" text-anchor="middle" font-size="13.89">4693</text>
<text x="1100.5" y="291.9" text-anchor="middle" font-size="13.89">55562</text>
<rect x="105.5" y="35.5" width="1380" height="286" fill="none" stroke="#000" stroke-width="1.111"/>
<line x1="162.5" y1="321.5" x2="162.5" y2="326.36" stroke="#000" stroke-width="1.111"/><text x="162.5" y="341.5" text-anchor="middle" font-size="13.89">0</text><line x1="459.5" y1="321.5" x2="459.5" y2="326.36" stroke="#000" stroke-width="1.111"/><text x="459.5" y="341.5" text-anchor="middle" font-size="13.89">2000</text><line x1="756.5" y1="321.5" x2="756.5" y2="326.36" stroke="#000" stroke-width="1.111"/><text x="756.5" y="341.5" text-anchor="middle" font-size="13.89">4000</text><line x1="1054.5" y1="321.5" x2="1054.5" y2="326.36" stroke="#000" stroke-width="1.111"/><text x="1054.5" y="341.5" text-anchor="middle" font-size="13.89">6000</text><line x1="1351.5" y1="321.5" x2="1351.5" y2="326.36" stroke="#000" stroke-width="1.111"/><text x="1351.5" y="341.5" text-anchor="middle" font-size="13.89">8000</text>
<line x1="100.64" y1="319.5" x2="105.5" y2="319.5" stroke="#000" stroke-width="1.111"/><text x="95.3" y="324.1" text-anchor="end" font-size="13.89">7.25</text><line x1="100.64" y1="274.5" x2="105.5" y2="274.5" stroke="#000" stroke-width="1.111"/><text x="95.3" y="279.1" text-anchor="end" font-size="13.89">7.30</text><line x1="100.64" y1="229.5" x2="105.5" y2="229.5" stroke="#000" stroke-width="1.111"/><text x="95.3" y="234.1" text-anchor="end" font-size="13.89">7.35</text><line x1="100.64" y1="183.5" x2="105.5" y2="183.5" stroke="#000" stroke-width="1.111"/><text x="95.3" y="188.1" text-anchor="end" font-size="13.89">7.40</text><line x1="100.64" y1="138.5" x2="105.5" y2="138.5" stroke="#000" stroke-width="1.111"/><text x="95.3" y="143.1" text-anchor="end" font-size="13.89">7.45</text><line x1="100.64" y1="93.5" x2="105.5" y2="93.5" stroke="#000" stroke-width="1.111"/><text x="95.3" y="98.1" text-anchor="end" font-size="13.89">7.50</text><line x1="100.64" y1="48.5" x2="105.5" y2="48.5" stroke="#000" stroke-width="1.111"/><text x="95.3" y="53.1" text-anchor="end" font-size="13.89">7.55</text>
<rect x="1361.5" y="42.5" width="117" height="27" rx="2.8" fill="#fff" fill-opacity="0.8" stroke="#ccc" stroke-opacity="0.8" stroke-width="1.389"/>
<line x1="1365.8" y1="53.9" x2="1396" y2="53.9" stroke="#008000" stroke-width="2.083"/>
<text x="1407.4" y="58.8" font-size="13.89">mag<tspan font-size="9.72" font-style="italic" dy="2.0">AGASC</tspan></text>
<rect x="1348.5" y="247.5" width="130" height="67" rx="2.8" fill="#fff" fill-opacity="0.8" stroke="#ccc" stroke-opacity="0.8" stroke-width="1.389"/>
<circle cx="1367.5" cy="260.5" r="1.9" fill="#f00"/>
<text x="1392.5" y="264.5" font-size="13.89">not OK</text>
<circle cx="1367.5" cy="281.5" r="1.9" fill="#ffa500"/>
<text x="1392.5" y="285.5" font-size="13.89">Highlighted</text>
<circle cx="1367.5" cy="302.5" r="1.9" fill="#000"/>
<text x="1392.5" y="306.5" font-size="13.89">OK</text>
<text x="795.5" y="372.2" text-anchor="middle" font-size="16.67">Magnitude Estimates</text>
<g clip-path="url(#c2)">
<path transform="scale(.1)" fill="none" stroke="#ffa500" stroke-width="37.0" stroke-linecap="round" d="M1640 4799h0m25-15h0m20-8h0m111 548h0m208-550h0m11 33h0m529 1176h0m130-439h0m310-729h0m560-9h0m380 568h0m260 327h0m400-974h0m640 79h0m290 502h0m280-550h0m0 33h0m780-1h0m520 0h0m740 842h0m280-811h0m60 0h0m870 471h0m430 456h0m100 377h0m260 282h0m50-1083h0m10 471h0m380 691h0m20-707h0m180-455h0m650 487h0m70-566h0m0 79h0m110 455h0m10 251h0m-20 205h0m430-472h0m430 330h0m730-345h0m50 15h0"/>
<path transform="scale(.1)" fill="none" stroke="#000" stroke-width="37.0" stroke-linecap="round" d="M1625 4958h0m1 35h0m1-48h0m2 156h0m2-23h0m2-100h0m1 76h0m1-47h0m1 9h0m1 28h0m15 44h0m4-155h0m5-33h0m2 58h0m1 101h0m1-63h0m2 27h0m4-44h0m5-137h0m3 30h0m1-33h0m2 23h0m1-73h0m3 86h0m3-32h0m2 93h0m1-15h0m1 154h0m1-170h0m1 81h0m1 59h0m4-88h0m4 69h0m3-24h0m3 83h0m4-27h0m2 47h0m6-100h0m1-26h0m1-49h0m6-25h0m3 130h0m1-80h0m4-35h0m5 165h0m4 27h0m2-91h0m1 83h0m1-22h0m2-97h0m1 77h0m1-92h0m3 156h0m4 10h0m3-205h0m9-60h0m1 102h0m2 71h0m1-111h0m3 78h0m6 104h0m3-127h0m1 165h0m1-152h0m1 124h0m1-56h0m2 102h0m3 38h0m2 26h0m2-131h0m1 153h0m4-222h0m2 205h0m1-167h0m1 101h0m2-28h0m2 42h0m1 36h0m8-114h0m3-98h0m2-91h0m2 120h0m3-105h0m1 208h0m2-209h0m1 43h0m1 49h0m1 48h0m1-134h0m1 153h0m2-117h0m2 199h0m1-75h0m2 146h0m2-245h0m9 135h0m4 104h0m1-36h0m1 13h0m1-52h0m1-101h0m2 81h0m3-93h0m1 63h0m1-75h0m2-57h0m2 9h0m1 34h0m3-85h0m1 121h0m1-101h0m1-69h0m1 19h0m5-36h0m5 109h0m1-77h0m4 13h0m5-54h0m2 82h0m1 108h0m2-82h0m1 102h0m1 46h0m1-163h0m2 14h0m1 134h0m3-84h0m3 136h0m1-26h0m1 108h0m5-147h0m3 56h0m2 24h0m3 11h0m4-112h0m2-36h0m3-50h0m1 124h0m4-95h0m2-49h0m1 90h0m2-113h0m6 191h0m1-60h0m5-62h0m6-63h0m1 164h0m7-68h0m5-59h0m2 185h0m2-96h0m1-158h0m2 107h0m1 102h0m8-170h0m1 183h0m3-40h0m2-36h0m1-52h0m4 131h0m6-220h0m2 70h0m1 49h0m3-109h0m3 153h0m3-115h0m1 40h0m5-120h0m2 41h0m2-65h0m2 56h0m3 130h0m2 20h0m1-78h0m4 114h0m7-74h0m1-75h0m6 158h0m1-135h0m1 67h0m2-79h0m4 41h0m1 94h0m6-82h0m2 59h0m3 17h0m1-16h0m2 47h0m1-76h0m3 7h0m1-120h0m2-25h0m4 99h0m3-33h0m1-73h0m4-50h0m4 28h0m1-52h0m3 45h0m3-11h0m1 150h0m4-70h0m1-7h0m1 35h0m2 82h0m1 32h0m3-89h0m1 112h0m1-205h0m7 220h0m2-85h0m2 178h0m1-140h0m2 91h0m1 65h0m2-59h0m2-36h0m2 143h0m1-132h0m1-7h0m1-44h0m3 18h0m1-111h0m1-25h0m2 74h0m1-111h0m1 77h0m6-156h0m1 47h0m1-5h0m6-50h0m2-22h0m3 54h0m2 27h0m2 89h0m1-97h0m3 47h0m1 84h0m1 91h0m1-58h0m2-85h0m1-28h0m1 159h0m3 26h0m1 28h0m1-176h0m5 196h0m1-102h0m10-63h0m1 175h0m3-158h0m3-20h0m1 130h0m1-71h0m2 41h0m1-153h0m1-66h0m1 24h0m4 60h0m2-47h0m1-76h0m5 25h0m1 29h0m4 29h0m2-14h0m3 42h0m1 134h0m1-47h0m3-28h0m1-30h0m3 130h0m1 12h0m3-49h0m1-22h0m8-79h0m2 148h0m1-83h0m1 73h0m4-19h0m4-96h0m1-73h0m4 232h0m1-94h0m1-141h0m5 8h0m3 107h0m1-22h0m1 120h0m2-174h0m1 125h0m1 42h0m4-235h0m6 92h0m5-126h0m1 27h0m1 43h0m3-11h0m2 29h0m1 96h0m3-75h0m2 92h0m1-49h0m3 82h0m4 18h0m3 78h0m5-42h0m1-172h0m2 156h0m3-60h0m3-28h0m2-7h0m1 52h0m2-282h0m1 220h0m3 88h0m1-122h0m1-27h0m3 40h0m1-108h0m1 35h0m3 10h0m2-33h0m1-124h0m4 101h0m4 62h0m3-147h0m2 55h0m2 55h0m4-3h0m1-41h0m1-44h0m4 149h0m2 16h0m4 134h0m2-103h0m2-181h0m4 25h0m1 85h0m1-21h0m1 145h0m3-16h0m2 31h0m5-117h0m2 29h0m3 200h0m2-39h0m1-18h0m2 34h0m4-146h0m3 78h0m2 15h0m1 69h0m4-132h0m1 24h0m1-169h0m2 19h0m1 57h0m4-87h0m2 96h0m2-37h0m4 67h0m5 52h0m3-42h0m4-92h0m2 71h0m1-33h0m2 123h0m3-45h0m14-117h0m1 14h0m4 58h0m4 73h0m1-5h0m1-38h0m1 14h0m7-59h0m3-13h0m2-67h0m4-124h0m1 145h0m2-79h0m5 27h0m2 79h0m2-112h0m1 17h0m3 157h0m1-188h0m2-18h0m2 96h0m5 60h0m1-78h0m1 105h0m2-51h0m1 124h0m1-26h0m3 82h0m1-96h0m4 116h0m1 13h0m2-59h0m10-36h0m2 110h0m2-60h0m3-83h0m3-14h0m3-28h0m6 151h0m2-198h0m1 265h0m4-32h0m1-93h0m1-9h0m6-127h0m1 99h0m1-23h0m1-30h0m1-146h0m1 322h0m2-53h0m11-255h0m1 37h0m1 73h0m1-46h0m1 68h0m7-38h0m2 68h0m2-103h0m4 177h0m1-41h0m4-62h0m4 132h0m1 49h0m1-90h0m4 32h0m1 19h0m2-170h0m4 135h0m2-190h0m1 121h0m1-16h0m3 41h0m2 17h0m1-179h0m3-28h0m4 71h0m1-68h0m2 115h0m1-147h0m1-12h0m4 100h0m1 68h0m1-37h0m1-67h0m3 175h0m3-122h0m1 59h0m1 37h0m2 62h0m3 47h0m3 22h0m1-62h0m2 75h0m2-142h0m2 94h0m7-124h0m1 148h0m1-174h0m1 141h0m2-22h0m1-33h0m3-149h0m1 50h0m2 34h0m1-62h0m2 116h0m1-39h0m1-199h0m3 76h0m1 7h0m4-94h0m1 64h0m4 47h0m5 130h0m4-121h0m2 17h0m3 32h0m1 25h0m1 88h0m2-58h0m2 41h0m2 47h0m2 31h0m5 30h0m6-107h0m3 71h0m1-103h0m2 82h0m4-155h0m4 123h0m2-74h0m2-25h0m2 186h0m13-123h0m6-52h0m2-32h0m3 96h0m1 49h0m2-58h0m2-33h0m2 96h0m2-21h0m2 44h0m3-179h0m1 182h0m5 18h0m4-183h0m2 121h0m1 65h0m1-93h0m1-154h0m1 93h0m3-40h0m3 77h0m4-99h0m12-58h0m3-16h0m1-11h0m1 158h0m5-35h0m2-148h0m1 98h0m1-59h0m1 38h0m2 141h0m3-95h0m5-13h0m4 137h0m4-18h0m3-67h0m4 23h0m1 18h0m3 43h0m2 48h0m2-209h0m2 53h0m4 163h0m1-115h0m3 87h0m4-53h0m2-110h0m9 43h0m1 132h0m1-90h0m3 56h0m5-138h0m2 113h0m3-94h0m2 126h0m3-195h0m1 125h0m1-136h0m5 11h0m7 99h0m3-55h0m7 107h0m1 33h0m3-56h0m1-48h0m2-62h0m7 59h0m2 119h0m4 18h0m2-96h0m2 123h0m3-15h0m2-80h0m2 122h0m1-102h0m6-122h0m3 63h0m3 91h0m1-62h0m3-84h0m1 135h0m2-104h0m5 88h0m4-200h0m1 56h0m7 35h0m4 55h0m5-98h0m3 7h0m1 126h0m1-62h0m3 98h0m3-64h0m2-121h0m7 195h0m2-148h0m4 22h0m3 23h0m6 54h0m2 18h0m4-150h0m3 117h0m3-138h0m2 257h0m1-162h0m3-50h0m2 159h0m5-137h0m2 91h0m1-61h0m2 18h0m1 21h0m4-79h0m3-43h0m1-79h0m1-21h0m1 18h0m8 135h0m2-39h0m3 91h0m5 86h0m3-28h0m1-74h0m1 171h0m3-120h0m3-113h0m2 32h0m1 70h0m3-41h0m2-94h0m5 33h0m3 140h0m4-11h0m5-104h0m1-92h0m2 152h0m1-154h0m6 44h0m1 185h0m1-64h0m2-47h0m3 119h0m3-153h0m1 201h0m3-183h0m3 135h0m1-39h0m3 138h0m5-99h0m1-98h0m1-9h0m2 90h0m5-14h0m1-37h0m3-109h0m1 35h0m1 41h0m5-111h0m6-20h0m1-10h0m5-1h0m2 28h0m1-10h0m1 33h0m2 25h0m1 115h0m1-72h0m1 52h0m2-30h0m2-55h0m5 197h0m2-73h0m1 103h0m1-93h0m4 48h0m3-57h0m1 104h0m1-126h0m2 64h0m2-101h0m3 197h0m1-231h0m1 177h0m1-152h0m1 85h0m4-147h0m2 171h0m4-214h0m6 12h0m1-23h0m1-8h0m5-59h0m1 78h0m3 70h0m1-37h0m5 63h0m1-88h0m3 114h0m1-75h0m1 91h0m8 38h0m1-10h0m1 35h0m3 12h0m1-128h0m2 140h0m1-54h0m1-53h0m3 92h0m3 37h0m4-182h0m6-38h0m2 8h0m1 105h0m1 89h0m4-127h0m5 143h0m5-70h0m4-177h0m1 102h0m5-98h0m2 77h0m2 85h0m1-106h0m4 70h0m2-123h0m1 115h0m1-57h0m1-21h0m5-8h0m4 166h0m1-116h0m7-72h0m1 170h0m3 33h0m1-70h0m3 62h0m1 26h0m1-90h0m2-49h0m3 151h0m2-140h0m3-41h0m4-76h0m4 50h0m1-23h0m3 145h0m1-42h0m3 70h0m4-108h0m3-72h0m4 219h0m10-66h0m1-95h0m1 64h0m3-94h0m7 63h0m1 52h0m2 38h0m8-69h0m2-159h0m1 241h0m4-168h0m2 22h0m6 29h0m6 53h0m1 36h0m3-51h0m3 61h0m4-140h0m3 178h0m1-172h0m1 80h0m3 26h0m6-58h0m5-39h0m1-28h0m4 39h0m1 90h0m6 72h0m4-161h0m1 56h0m1 138h0m1-165h0m4 184h0m3-74h0m1-21h0m2 161h0m4-38h0m3-77h0m1-23h0m4-64h0m1 39h0m2-8h0m1-126h0m2 201h0m7-168h0m1 28h0m1 56h0m2-112h0m4-34h0m1 118h0m1 2h0m2-169h0m1 121h0m1-148h0m6 59h0m7 63h0m11-32h0m2-81h0m1 19h0m2 140h0m3-94h0m3 147h0m2-40h0m1-78h0m1-58h0m1 211h0m2 13h0m1-124h0m11 106h0m4-51h0m3 15h0m1-91h0m1-84h0m1-38h0m1 57h0m1 79h0m1 21h0m2-74h0m2-67h0m3-83h0m3 33h0m1-40h0m4 115h0m1 71h0m2-160h0m3 124h0m7 40h0m2-87h0m1 62h0m2 138h0m2-78h0m2 21h0m1 6h0m3-130h0m4 73h0m1 67h0m1-32h0m3 40h0m4-156h0m2 39h0m2-123h0m1 48h0m4 90h0m5 32h0m4 36h0m2-190h0m4-29h0m5 121h0m1-102h0m2 222h0m2-156h0m3 30h0m1 15h0m1 16h0m1-82h0m1 38h0m1 57h0m1 30h0m2 88h0m3 20h0m1-38h0m2-30h0m2 161h0m1-7h0m1-45h0m2-163h0m1 167h0m1-44h0m1 23h0m1 46h0m2 96h0m1-51h0m2 34h0m5-18h0m3-90h0m2 51h0m1-4h0m3-102h0m1 74h0m1-129h0m1-116h0m1 210h0m2-109h0m1 40h0m1-47h0m2-33h0m5-24h0m1 7h0m7 119h0m3-75h0m5-93h0m1 15h0m3 25h0m1-40h0m1 154h0m4-28h0m2 48h0m2-108h0m2 18h0m2 125h0m7 26h0m5 5h0m1-51h0m2 28h0m1-75h0m3-28h0m2 67h0m2-10h0m2-134h0m1 14h0m1 60h0m2-146h0m3 120h0m3-153h0m1 76h0m5 124h0m4-44h0m3-134h0m1 6h0m2 15h0m1 47h0m2 34h0m1-68h0m3 169h0m4-39h0m5 109h0m3-94h0m1 49h0m2 43h0m1-132h0m5-38h0m5-26h0m6 129h0m4 66h0m1-35h0m2-72h0m4 98h0m2-137h0m4 86h0m5-8h0m1 41h0m1-96h0m3 157h0m6-128h0m1-86h0m4 149h0m1-81h0m4-31h0m1-48h0m1-43h0m1 56h0m1-83h0m1-74h0m3 106h0m1 5h0m1-33h0m1 190h0m1-123h0m2 106h0m4-55h0m2 121h0m2-131h0m3 35h0m1 78h0m2 40h0m1 17h0m5-5h0m2-117h0m3 47h0m4 53h0m1 53h0m7-143h0m1 33h0m2 22h0m1-36h0m2-72h0m2-4h0m3-109h0m6 144h0m1-19h0m3-78h0m5 204h0m1-89h0m3 93h0m5-14h0m3-45h0m1 19h0m6-111h0m3-9h0m1 48h0m2 32h0m1 12h0m5 31h0m2-140h0m1-23h0m2-4h0m9-32h0m3 73h0m1-48h0m3 83h0m1-65h0m1 93h0m2 17h0m3-103h0m3 126h0m5 25h0m4-78h0m1 103h0m3 11h0m4-24h0m1-151h0m1 24h0m2 109h0m1-35h0m3-42h0m2 126h0m1 29h0m4-158h0m5 89h0m1-49h0m1 168h0m6-139h0m1 78h0m1-63h0m1-118h0m7 104h0m1-63h0m1 27h0m1 17h0m1-127h0m2 26h0m1-72h0m2-13h0m4 122h0m9-69h0m4 110h0m3-81h0m6 61h0m1 60h0m6-100h0m1-47h0m9 87h0m1-35h0m1 60h0m6-92h0m5 131h0m4-23h0m1 72h0m1-165h0m1 168h0m1-289h0m2 158h0m6 116h0m1 13h0m1-106h0m5 48h0m2 32h0m9-102h0m1 173h0m2 9h0m4-120h0m1-10h0m1-44h0m1 50h0m2-83h0m1 151h0m2-165h0m2-30h0m2 98h0m1-158h0m3 25h0m4-42h0m1-51h0m1 30h0m2 26h0m3 35h0m2 14h0m1-38h0m2 179h0m1-108h0m1 50h0m2-64h0m1 105h0m2-53h0m2 73h0m4 28h0m9-53h0m2-45h0m2 39h0m1-57h0m3 117h0m13 33h0m4-59h0m2 64h0m1-150h0m3 31h0m5 5h0m3 28h0m1 13h0m1-49h0m2 80h0m3-134h0m2-18h0m1 28h0m1 22h0m1-77h0m5-121h0m1 80h0m1-23h0m1 56h0m7-89h0m1 129h0m1-75h0m4-35h0m2 205h0m3 10h0m3-54h0m2-62h0m2 84h0m1-73h0m3 29h0m4-75h0m1 204h0m3-6h0m1-39h0m1 21h0m4-55h0m1-153h0m2 134h0m9-105h0m1 65h0m1-35h0m7 101h0m1-152h0m3 81h0m1-75h0m1 60h0m2 123h0m2 63h0m1-29h0m1-93h0m1-16h0m2 172h0m2 58h0m10-192h0m5 113h0m3-38h0m2 22h0m1-45h0m1-26h0m1-76h0m1-29h0m1 188h0m2-154h0m3-66h0m2 148h0m1-162h0m2-26h0m1 5h0m3-13h0m5 31h0m2 32h0m1-76h0m2 117h0m1 46h0m1-133h0m1-24h0m3 98h0m1 63h0m3 19h0m1 115h0m1-89h0m2-97h0m1 111h0m1 36h0m3-18h0m1 30h0m6 61h0m1 13h0m4-19h0m2 22h0m1-170h0m6 216h0m1-101h0m2-14h0m1-37h0m1 100h0m1-104h0m3-70h0m2 36h0m1-114h0m3 45h0m1-31h0m2-28h0m2-16h0m3-9h0m2-51h0m1-20h0m3 194h0m5-148h0m2 56h0m2 134h0m3-68h0m2-36h0m1 143h0m3 51h0m1-111h0m2-38h0m3 131h0m6-44h0m6 89h0m2-32h0m7-114h0m3 136h0m1-108h0m1 62h0m3-97h0m1 61h0m3 3h0m1-104h0m1 14h0m3-40h0m3-36h0m3 11h0m4 117h0m2-31h0m1-40h0m3-100h0m3 10h0m8-6h0m5-84h0m2 149h0m1 45h0m2 99h0m1-168h0m4 7h0m2-61h0m1 157h0m1-87h0m1 28h0m1 8h0m4 100h0m2 119h0m1-149h0m3 60h0m2 99h0m4-192h0m4 174h0m6-55h0m1-16h0m3-80h0m2 23h0m3-85h0m1 21h0m6 89h0m4-119h0m2 45h0m7 129h0m2 81h0m1 6h0m1-120h0m7-61h0m5 24h0m1 12h0m2-161h0m1 121h0m1-27h0m1-64h0m1 32h0m1-74h0m10-38h0m4-29h0m5 91h0m5-40h0m2 63h0m1 30h0m1-85h0m1 114h0m1-163h0m1 178h0m6 57h0m1 11h0m1-59h0m1-14h0m1 60h0m6-25h0m1-158h0m2 99h0m5-28h0m2-40h0m7-90h0m1 32h0m3 16h0m1 20h0m3 137h0m1-126h0m2-66h0m1 213h0m2-39h0m4-82h0m2 54h0m2 99h0m1-134h0m3 46h0m2 95h0m4-64h0m4 123h0m2-208h0m4 106h0m2 17h0m1 16h0m5-179h0m3 73h0m2 22h0m2-118h0m1 142h0m1-61h0m2-34h0m3-75h0m7-18h0m3 102h0m5-88h0m1 52h0m1 21h0m5-40h0m1 143h0m1-50h0m1 53h0m1-68h0m2 98h0m1-61h0m10 75h0m3-140h0m5 9h0m4 123h0m1-53h0m1-114h0m3 158h0m3-214h0m2 188h0m1-51h0m2-107h0m2 96h0m2 71h0m1-235h0m2 10h0m2 85h0m1 33h0m4-177h0m3 45h0m6 111h0m3-90h0m1-48h0m1 81h0m3 37h0m1 71h0m11-125h0m1 102h0m11 27h0m1 49h0m1 67h0m2-202h0m1 146h0m2-161h0m1 126h0m3-79h0m4 222h0m1-111h0m1-89h0m3 64h0m5 76h0m5-31h0m1-107h0m3 43h0m1 106h0m1-132h0m1-38h0m3 183h0m4-36h0m2 58h0m4 10h0m3-121h0m3 147h0m3-164h0m4-34h0m2 199h0m1-128h0m2 85h0m2-50h0m2 24h0m9-114h0m3 154h0m2-204h0m4 96h0m1-32h0m2-116h0m1 65h0m4-45h0m1 190h0m2-29h0m1 21h0m5-156h0m1 39h0m2-14h0m1 72h0m1-152h0m1 72h0m2 38h0m7-83h0m2 97h0m1 119h0m3-59h0m1 113h0m5-15h0m4-63h0m1 44h0m1 26h0m3-41h0m1 11h0m3 65h0m1-177h0m2 125h0m3-64h0m1-30h0m2-12h0m3-68h0m1-8h0m1 30h0m1-10h0m2-50h0m2-52h0m2 47h0m1-31h0m6-34h0m2-40h0m1 54h0m3-16h0m5 158h0m1-125h0m5 89h0m4-31h0m2-49h0m2 135h0m2-118h0m3 27h0m3 170h0m1-46h0m1 11h0m1-91h0m1 96h0m2-87h0m11-43h0m4 68h0m3 17h0m3 98h0m2 7h0m1-156h0m1 105h0m4-27h0m5-144h0m2-9h0m1 31h0m5 26h0m2-48h0m3 80h0m6 19h0m1 37h0m2-19h0m3-89h0m1 167h0m2-27h0m4 47h0m4 17h0m1-169h0m4 134h0m6-85h0m2-143h0m2 118h0m3-73h0m2 27h0m1-44h0m1 219h0m1-73h0m2 35h0m6-64h0m1-56h0m3 31h0m4 194h0m2-107h0m1 48h0m3-84h0m2 180h0m2-83h0m5-35h0m1 41h0m3-15h0m2-110h0m1 70h0m2-34h0m1 50h0m3-38h0m3-103h0m1 22h0m3-105h0m9 17h0m1-64h0m3 120h0m1-28h0m1 95h0m3-108h0m3 131h0m3-45h0m1 102h0m4-112h0m5-138h0m3 94h0m2 226h0m2-191h0m1 52h0m4 21h0m6-60h0m1-31h0m1-35h0m1-31h0m5 5h0m1-43h0m5 78h0m2 55h0m2-135h0m1 170h0m4-187h0m2 88h0m4 130h0m3 4h0m1-129h0m1 44h0m3-23h0m2 130h0m3 4h0m3-94h0m2 17h0m2 12h0m8 79h0m1 22h0m1 21h0m4-84h0m1-9h0m3 96h0m6-32h0m7-19h0m1-73h0m1-96h0m4 69h0m1-31h0m1 96h0m2-176h0m1 69h0m1 79h0m5-128h0m1-41h0m5-21h0m1 2h0m2 98h0m11 39h0m1-179h0m1 123h0m1 90h0m3-118h0m2 15h0m1-39h0m2 193h0m2-107h0m1 36h0m7 89h0m1-49h0m1 77h0m1-46h0m1 12h0m2 36h0m3-71h0m1 47h0m6-164h0m1 98h0m1-72h0m1 60h0m2-39h0m2-89h0m3-28h0m2-65h0m3 46h0m2-44h0m1 19h0m2 29h0m1-43h0m1 97h0m3-85h0m2 117h0m2-58h0m4-17h0m2 152h0m1-47h0m1 55h0m5-112h0m2 86h0m1 49h0m1-102h0m4 124h0m3-55h0m1-54h0m6 128h0m4 50h0m1-47h0m1 5h0m7-106h0m1 73h0m1-22h0m1-115h0m3-79h0m2 60h0m1 34h0m3 40h0m6 29h0m1-142h0m1 20h0m1-44h0m1 14h0m3 99h0m6-87h0m3 65h0m2-58h0m2 146h0m3-114h0m1 186h0m7-99h0m1 86h0m3 15h0m1-33h0m1-83h0m6 93h0m3-119h0m1 108h0m3-137h0m1 116h0m4-36h0m1-119h0m3-19h0m3-5h0m1 107h0m3 61h0m2-111h0m4-96h0m2 29h0m1-67h0m1 154h0m1-141h0m3-15h0m2-23h0m2 53h0m1 56h0m3 31h0m1 21h0m1-7h0m2 52h0m2 49h0m1-135h0m1 109h0m1-11h0m1 49h0m1 36h0m4 25h0m1 21h0m3 5h0m3 32h0m7-16h0m2-66h0m2 11h0m2 31h0m1-9h0m1-11h0m1-103h0m2 52h0m2-21h0m1-111h0m3 24h0m2-43h0m1-33h0m3 16h0m2-7h0m3 9h0m2 10h0m1 70h0m4-143h0m1 84h0m3 17h0m1 3h0m1 28h0m1 56h0m3 40h0m1 25h0m3-82h0m6-29h0m2 138h0m3 30h0m1 35h0m1-8h0m9-116h0m8-25h0m2 114h0m1-127h0m2 69h0m1 91h0m2-180h0m3 132h0m1-36h0m2 78h0m3-59h0m1-147h0m4-10h0m3 102h0m6-17h0m1-110h0m5 89h0m2-31h0m1-68h0m4-56h0m2 57h0m2 19h0m1-40h0m1-33h0m1 102h0m4 46h0m1-61h0m1 108h0m1 53h0m1 84h0m1-114h0m6 61h0m2 19h0m2-166h0m1 99h0m3 34h0m3 30h0m3-117h0m2 22h0m1 55h0m1 53h0m1-147h0m1-40h0m2-35h0m4 131h0m3-158h0m2-10h0m2-57h0m1 52h0m2 98h0m1-164h0m2 17h0m3 33h0m1 3h0m3 136h0m2 9h0m1-59h0m1 119h0m2-28h0m4-146h0m1 25h0m1 186h0m3-12h0m5-61h0m4-60h0m1 101h0m1-10h0m4-57h0m1 8h0m1-36h0m2-39h0m4 18h0m1-96h0m3 10h0m1 27h0m1 20h0m1-85h0m4-95h0m1 81h0m1-96h0m1-38h0m1 37h0m1 75h0m1-33h0m3 24h0m1 5h0m5 47h0m1 18h0m1 27h0m2-67h0m4 116h0m1 70h0m1-88h0m1-6h0m2 61h0m1 21h0m2-27h0m1 105h0m1-51h0m2 58h0m3 66h0m2-185h0m3 136h0m2 1h0m3-40h0m6 10h0m1-71h0m1 154h0m2-254h0m2 80h0m1-88h0m1 162h0m1-31h0m2-4h0m2-73h0m1-6h0m2-23h0m1-58h0m4-29h0m5-58h0m5 44h0m2 21h0m1-61h0m2-3h0m1 182h0m3-43h0m2-32h0m2 108h0m2 14h0m2-65h0m1 203h0m3-133h0m6 117h0m1-269h0m3 120h0m2 61h0m2-50h0m2-52h0m2 84h0m6-118h0m3 158h0m2-35h0m2-96h0m1-62h0m1 113h0m4-27h0m2-112h0m1 59h0m1-68h0m4-12h0m2 43h0m2 18h0m2 132h0m2-24h0m3-67h0m2 113h0m4 24h0m1 16h0m2-43h0m5 84h0m1-36h0m1-110h0m4-20h0m2 152h0m2-45h0m3 108h0m2-26h0m4 0h0m2-135h0m2 139h0m2-116h0m6-78h0m2-36h0m1 173h0m1-12h0m2-20h0m2-78h0m6-80h0m2-22h0m1 111h0m2 36h0m10-152h0m3 66h0m4-62h0m2 76h0m1-26h0m2 14h0m1 104h0m3-136h0m1 97h0m1 73h0m3-17h0m2-84h0m1 138h0m2 34h0m3 7h0m1-28h0m7 1h0m1 47h0m1-173h0m1 99h0m5-69h0m1-136h0m1 77h0m2-25h0m1 117h0m1-177h0m1 57h0m1-107h0m3-29h0m1 191h0m1-99h0m1-105h0m1 14h0m1 50h0m1-80h0m3-8h0m1-25h0m1-2h0m2 18h0m1 11h0m1 66h0m3 14h0m1 64h0m1 6h0m1-31h0m1-4h0m2 172h0m1-106h0m1 151h0m2-156h0m1 44h0m1 105h0m1-84h0m1 15h0m2 144h0m1-124h0m3 101h0m7-56h0m2 34h0m1 99h0m4-47h0m5-50h0m1 25h0m1-124h0m1-29h0m4 69h0m1-131h0m2-28h0m1-31h0m1 69h0m1 63h0m1 91h0m1-164h0m8-123h0m1 69h0m1-12h0m1 187h0m3-21h0m1-118h0m1 46h0m8-90h0m1 113h0m1 106h0m1-169h0m4 79h0m7 96h0m1-71h0m6-79h0m1-2h0m1 113h0m1-55h0m2 78h0m6-104h0m5-70h0m3 45h0m4 77h0m2-147h0m1 72h0m2 59h0m1-47h0m2 98h0m3-84h0m4 123h0m4-69h0m3 98h0m3 28h0m2-107h0m1-44h0m4 171h0m6-97h0m2 22h0m1-114h0m4 207h0m2-29h0m1-33h0m3-167h0m5 73h0m8-31h0m1 59h0m3 32h0m2-150h0m1 172h0m4-129h0m1-43h0m1-10h0m3 98h0m9 12h0m4-69h0m1 31h0m1 63h0m7 49h0m4-22h0m2-69h0m1-87h0m4-8h0m3 68h0m5 80h0m6-112h0m1 195h0m1-115h0m6-46h0m1 58h0m1-129h0m4 33h0m2 76h0m1-179h0m3 20h0m1 123h0m2-85h0m3-10h0m4 9h0m1 46h0m4-80h0m1 71h0m1-86h0m2 200h0m2-20h0m7-74h0m1 81h0m1-39h0m4 104h0m1-70h0m3-114h0m2 49h0m3-102h0m3 26h0m6-28h0m1 124h0m1-97h0m2 17h0m2 110h0m1-65h0m1-29h0m4 137h0m2-125h0m2 78h0m4 63h0m2-31h0m2 54h0m1-126h0m7 159h0m4-40h0m3-95h0m1-45h0m1 129h0m2-32h0m3 80h0m1-57h0m2-58h0m4-78h0m1 39h0m2-59h0m2-46h0m1-11h0m3-45h0m1 27h0m1-46h0m4 29h0m2-21h0m4 109h0m1-26h0m1-93h0m2 150h0m1-56h0m2-24h0m1-24h0m1 212h0m1-114h0m4-2h0m1 44h0m1-2h0m1 83h0m2-46h0m1 99h0m1-32h0m3 58h0m2-12h0m5-19h0m5-48h0m1-37h0m3 26h0m1-105h0m3 12h0m1 73h0m1-3h0m2-40h0m1-103h0m3 65h0m2-56h0m1-33h0m2 52h0m1-84h0m1-12h0m4 181h0m2-186h0m4 103h0m5-99h0m5 147h0m3 27h0m3-144h0m1 92h0m1-55h0m1 62h0m6-64h0m4 148h0m1 5h0m3-120h0m2 81h0m1-16h0m3-152h0m6 64h0m1 46h0m1-121h0m1 26h0m4 160h0m1-119h0m1-96h0m1 168h0m4 85h0m5-52h0m3 73h0m1-121h0m6 20h0m1 45h0m1 103h0m1-97h0m5 131h0m3-10h0m3-59h0m5 56h0m3-86h0m2-85h0m2 122h0m2-6h0m4 32h0m1-72h0m3-55h0m1 26h0m4-75h0m2 118h0m3-151h0m5 53h0m4-52h0m4 87h0m6 71h0m1 66h0m2-203h0m1 163h0m3-64h0m1 15h0m3 49h0m2-102h0m1 75h0m2-154h0m4 104h0m3-57h0m3-166h0m1 154h0m5-85h0m2-14h0m1 18h0m1 174h0m1-141h0m6-9h0m1 25h0m2 85h0m2-33h0m4 100h0m4-119h0m6 82h0m3-23h0m6-81h0m2 56h0m6-83h0m8 156h0m1-156h0m1 47h0m1 77h0m2 120h0m1-72h0m5 0h0m2-32h0m2-51h0m1 167h0m2-59h0m2-121h0m2 111h0m4-169h0m4 68h0m2 33h0m1-121h0m2 45h0m6-29h0m4 150h0m4-72h0m3 49h0m2-89h0m1-99h0m4 165h0m1-119h0m3-81h0m1 61h0m7 38h0m3 31h0m6 36h0m1 63h0m9-30h0m2-95h0m1 224h0m1-50h0m1-89h0m3-131h0m2 58h0m8 30h0m2 120h0m1-18h0m1-33h0m6-14h0m2-43h0m1 128h0m3-174h0m7 130h0m1-9h0m2-60h0m4-78h0m1 20h0m5 22h0m7 99h0m1-31h0m1 92h0m1-149h0m4 22h0m3 147h0m2-45h0m6-36h0m2-131h0m8-79h0m2 107h0m2 73h0m3-153h0m1 38h0m1-34h0m1 18h0m1 59h0m1 46h0m4-24h0m3-71h0m1 167h0m1-64h0m2 48h0m3-65h0m1 103h0m2-115h0m7 156h0m1 24h0m1 4h0m1-52h0m1 14h0m1-87h0m5 50h0m4 47h0m1-90h0m1 36h0m5-62h0m1-35h0m1-107h0m1 10h0m1 55h0m1-93h0m2 73h0m3-15h0m7-27h0m3 91h0m1-74h0m1-40h0m1 56h0m1 144h0m1-127h0m2 112h0m1-37h0m1 86h0m1-143h0m2 154h0m1-27h0m3 122h0m2-78h0m1 105h0m3-74h0m1 41h0m1-21h0m2-47h0m5 29h0m2-183h0m4 58h0m3-33h0m2 106h0m1-188h0m1 138h0m3 25h0m4-58h0m1-82h0m1 6h0m3-44h0m2-61h0m3 109h0m2-155h0m3 139h0m1 36h0m2-60h0m2 97h0m1-23h0m5 63h0m1 16h0m1-176h0m1 265h0m4-51h0m1 34h0m3-92h0m1 153h0m6-32h0m2-53h0m5-90h0m3 61h0m3-97h0m2 160h0m2-179h0m3-9h0m5 99h0m4-20h0m1-39h0m1 125h0m2-138h0m9 118h0m3 41h0m4-62h0m1-128h0m2 88h0m2-32h0m7-98h0m1-35h0m1 73h0m4-105h0m1 20h0m4 110h0m2-159h0m5 59h0m3 53h0m2 74h0m4-118h0m1 147h0m1-131h0m10 57h0m2-38h0m2 55h0m4-72h0m3 38h0m1 113h0m2 23h0m3-121h0m1 49h0m4 95h0m2-70h0m4 75h0m3 0h0m2-5h0m2 32h0m1 56h0m1-101h0m1-35h0m1-60h0m8-63h0m1 96h0m1-61h0m3-136h0m4 64h0m3 97h0m1 61h0m1-199h0m1 82h0m7 145h0m5-177h0m1 67h0m3 53h0m4 67h0m2-152h0m1 103h0m3-47h0m2 92h0m1-13h0m3-44h0m1-7h0m3-59h0m2 15h0m3-75h0m1-5h0m1 39h0m1-71h0m1-21h0m1-26h0m6-58h0m3 150h0m3-142h0m1 39h0m3 30h0m4 16h0m2-50h0m2 8h0m2 57h0m1 30h0m2-135h0m2 296h0m1-180h0m2 61h0m1 42h0m1 26h0m2 9h0m3 36h0m3-74h0m2 129h0m1-76h0m1-116h0m2 163h0m8 51h0m3-13h0m2-62h0m4 12h0m1-58h0m2 70h0m5 17h0m2-163h0m1-40h0m2 88h0m5 15h0m1-166h0m1 206h0m1-92h0m2-35h0m4-20h0m2-45h0m1-26h0m1 156h0m7-91h0m2-9h0m3 145h0m4 26h0m1-7h0m2-23h0m3-56h0m2 32h0m2-61h0m1-51h0m6 35h0m1-56h0m2-25h0m8 90h0m1-44h0m1 87h0m1 83h0m1-156h0m5 72h0m1 60h0m2-12h0m2 62h0m2 51h0m1 3h0m3-142h0m1 200h0m1-89h0m2 50h0m4 29h0m6-114h0m1-22h0m1 78h0m2-28h0m3-133h0m1-32h0m1 88h0m1-203h0m2 62h0m2 129h0m1-119h0m1 31h0m1 49h0m7-109h0m1-47h0m3-62h0m1 182h0m2-122h0m3 56h0m3 11h0m2 7h0m1 155h0m1-119h0m4 165h0m1-77h0m2-22h0m1-55h0m1 20h0m1 111h0m3 35h0m1-51h0m5 62h0m6 78h0m4-171h0m2 110h0m3-185h0m1 120h0m2 34h0m1 9h0m1-120h0m3 60h0m1-79h0m1-42h0m6-9h0m3 145h0m2-216h0m1 19h0m2 149h0m2-83h0m2 56h0m3-88h0m2 164h0m3-178h0m7 10h0m3 67h0m4 68h0m1-64h0m1-24h0m3 127h0m1-142h0m1 67h0m6 141h0m2-50h0m1 130h0m1-152h0m1 87h0m1-162h0m1 44h0m2-15h0m3 67h0m6-173h0m4 203h0m3-157h0m4 39h0m2-46h0m4 106h0m7-127h0m4 155h0m1-60h0m8-33h0m1 57h0m1 54h0m1-130h0m2 34h0m1-119h0m2 219h0m3-40h0m1-50h0m1-72h0m5-169h0m1 144h0m3-43h0m1-11h0m2 44h0m2-155h0m3 179h0m1-173h0m5 61h0m5 151h0m1 18h0m5-116h0m2 30h0m1 95h0m1 55h0m3-134h0m2 119h0m3-84h0m1 73h0m4 144h0m2-96h0m5-66h0m5 106h0m1 34h0m1-165h0m1-41h0m2 110h0m4 92h0m4-106h0m2 48h0m2-127h0m1 160h0m4-113h0m5-127h0m4 94h0m5 88h0m1 26h0m1 44h0m3-200h0m5 92h0m1 131h0m3-30h0m2-35h0m5 54h0m2-145h0m1-38h0m3 156h0m3-174h0m3 109h0m1-133h0m1 99h0m2 75h0m5-207h0m4 8h0m4-33h0m3 123h0m1-37h0m3-58h0m5 155h0m2 25h0m5-52h0m1-107h0m2 46h0m7 110h0m2-13h0m3-68h0m2 35h0m7-34h0m2-34h0m3-34h0m1 12h0m3-69h0m1-6h0m1 19h0m3 46h0m2-38h0m1 16h0m2-22h0m2 155h0m1-80h0m2 22h0m1-72h0m3 101h0m1 79h0m1 6h0m1 29h0m1 8h0m4 67h0m2-110h0m2-26h0m1 200h0m3-77h0m1 86h0m3-52h0m1 32h0m5-110h0m2-104h0m2 51h0m2-19h0m1 57h0m2-120h0m2-81h0m1 37h0m3 21h0m1-35h0m3-88h0m1-37h0m1 53h0m8 114h0m4-29h0m1-52h0m1 127h0m1-94h0m2 103h0m3 131h0m4-165h0m3 65h0m4 18h0m3-94h0m4 147h0m2-2h0m4-89h0m2-33h0m1-51h0m9-39h0m2 162h0m1-134h0m7 115h0m2 51h0m3-91h0m4-36h0m6-23h0m1 83h0m5 6h0m1 75h0m1-38h0m2 76h0m2-232h0m7 242h0m1-32h0m3-134h0m1 98h0m1 63h0m4-124h0m1-24h0m1 56h0m2-17h0m1-70h0m2-44h0m2 21h0m1-83h0m1 48h0m3-56h0m1-116h0m4 243h0m8-130h0m1 45h0m2-39h0m3 9h0m1-124h0m2 215h0m1-25h0m2 83h0m9-19h0m3-86h0m2 167h0m1-100h0m2-10h0m1 69h0m1-145h0m6 49h0m1 68h0m1 85h0m2 3h0m4 91h0m1-47h0m1-45h0m3 87h0m1-123h0m7 107h0m1-225h0m3-51h0m3 77h0m1 23h0m1 65h0m1-28h0m2-94h0m7 172h0m1-17h0m1-11h0m1-87h0m5-30h0m2 72h0m1-125h0m4 28h0m4-70h0m1 157h0m1-146h0m8 28h0m1 109h0m2-69h0m4 35h0m5 26h0m2-179h0m3 104h0m1-64h0m3 80h0m6-45h0m4 186h0m2-198h0m3 199h0m1-109h0m2 111h0m1-40h0m4-55h0m2-44h0m1 73h0m6-107h0m5 18h0m1-79h0m2-34h0m1 80h0m1 76h0m7 40h0m6-140h0m1-37h0m4 30h0m4 53h0m1 38h0m1-143h0m1-10h0m1 75h0m1 216h0m3-108h0m2 43h0m2-27h0m1-74h0m1 105h0m5 44h0m5-15h0m6 54h0m2-154h0m3 72h0m1-49h0m1 20h0m2 49h0m3-122h0m1-106h0m1 138h0m1-91h0m1 6h0m3-74h0m3 102h0m2-157h0m1 184h0m5-79h0m5-32h0m3 70h0m2 108h0m1 17h0m1-206h0m6 150h0m3 27h0m2-132h0m4 84h0m3-31h0m1 144h0m1 30h0m1-46h0m6 17h0m1-46h0m1 58h0m2 32h0m1 15h0m1-37h0m3-103h0m6-66h0m1 104h0m3-75h0m5 37h0m1-101h0m2 29h0m1-39h0m1 23h0m6-76h0m4 152h0m2-124h0m6-63h0m1 151h0m5-159h0m3 82h0m2 17h0m3 27h0m1 36h0m1-132h0m1 204h0m2 24h0m2-35h0m1-163h0m1 41h0m2 169h0m1-65h0m1 85h0m2-116h0m4 124h0m2 59h0m4-62h0m1 20h0m2 0h0m1-52h0m1 46h0m1-130h0m6 48h0m1 43h0m1-8h0m1-164h0m2-21h0m2 109h0m1-62h0m2 111h0m1-34h0m2-236h0m8 61h0m1-37h0m1 9h0m1 196h0m3-126h0m3-47h0m1-71h0m5 86h0m1 44h0m2 65h0m1 18h0m1-174h0m1 122h0m1-75h0m8 175h0m1-8h0m5 49h0m4 16h0m1-142h0m4-65h0m2 128h0m1 33h0m4-126h0m4 59h0m1-63h0m1 234h0m3-88h0m1 87h0m2-114h0m1 79h0m4 21h0m1-82h0m2 55h0m2-128h0m2 108h0m2-81h0m2-61h0m3 13h0m3 87h0m3-151h0m2 122h0m4-104h0m5-28h0m3-27h0m1 128h0m3-119h0m2 77h0m6-61h0m4 19h0m1 158h0m6 11h0m1-59h0m2 25h0m1-67h0m2-34h0m1 25h0m1 43h0m5 483h0m1 51h0m1-71h0m1-65h0m1 91h0m1-45h0m1-15h0m1-52h0m8 155h0m7-120h0m2-53h0m2 142h0m2 49h0m1-147h0m2 51h0m1-102h0m4 119h0m3 21h0m5-114h0m1-16h0m3 51h0m2 31h0m1-64h0m1-40h0m7-37h0m4 171h0m7 23h0m2-106h0m3 17h0m2 31h0m2 70h0m1 76h0m1-48h0m3-75h0m1 103h0m2 28h0m1 21h0m1-116h0m9 130h0m3 16h0m1-111h0m14 19h0m1 170h0m1-278h0m1 175h0m1-34h0m2-15h0m1 60h0m3-109h0m1-24h0m6-104h0m3 75h0m1-58h0m3 79h0m6 33h0m2 31h0m2-21h0m1-111h0m2 33h0m8-108h0m5 131h0m2-89h0m1-41h0m1 53h0m5-26h0m2 125h0m1-82h0m2 25h0m1 41h0m1 34h0m4 79h0m1 20h0m1-146h0m2 121h0m1-38h0m1 57h0m2-41h0m4 50h0m3-46h0m3-62h0m10 35h0m1-83h0m1-43h0m1 58h0m1 42h0m2-140h0m1-40h0m2 106h0m1-8h0m2-23h0m5 23h0m3 54h0m3-130h0m2 56h0m10 103h0m1 19h0m3-171h0m2 184h0m2-86h0m2 99h0m1 32h0m5-183h0m1 119h0m1 45h0m1-27h0m1-114h0m2 55h0m1-46h0m2-35h0m3 179h0m2-109h0m8 21h0m1-109h0m1 1h0m2 144h0m4-32h0m1-86h0m7 165h0m1-127h0m1 94h0m1-146h0m1 166h0m1-23h0m3-73h0m11-34h0m1 62h0m1 75h0m3-21h0m1-39h0m2-122h0m4 71h0m9-59h0m2 93h0m1-61h0m1 23h0m7 82h0m1-130h0m7 89h0m4-63h0m8 34h0m2 84h0m6-33h0m2-138h0m4-4h0m3 49h0m3-38h0m1 101h0m1-144h0m4 60h0m2 47h0m1-9h0m3 86h0m7-37h0m2 44h0m4-23h0m11-94h0m1-31h0m1 71h0m2 25h0m4-101h0m2-40h0m1-2h0m1 165h0m10-68h0m1-33h0m1-40h0m2 35h0m3 76h0m2 81h0m1-35h0m2 10h0m2 65h0m3-134h0m1 113h0m1-63h0m3-38h0m6 168h0m1-99h0m1 64h0m8-11h0m2 57h0m3-165h0m8 31h0m3 57h0m2-98h0m2 76h0m7-128h0m1 24h0m4 63h0m3 13h0m2-52h0m1-81h0m4 72h0m2 87h0m11 1h0m1 27h0m1-40h0m4-56h0m2-92h0m3 125h0m1-81h0m1-21h0m3 43h0m2-107h0m6-20h0m6 145h0m1-97h0m1 16h0m1-54h0m2 24h0m3 74h0m1 81h0m5-101h0m3 113h0m1-76h0m1 36h0m1 60h0m2 25h0m1 65h0m1-53h0m4-21h0m1 51h0m4-106h0m1 152h0m5 26h0m1 9h0m4-77h0m4 28h0m1-73h0m3 33h0m1-105h0m3 33h0m8 28h0m2-107h0m1-24h0m1-6h0m6 77h0m2-25h0m3 177h0m1-195h0m1 126h0m1-189h0m5 24h0m2 120h0m2 31h0m1-159h0m9 47h0m1 43h0m1-79h0m4 90h0m10-95h0m1 174h0m2-41h0m6-70h0m3 107h0m5-136h0m1-15h0m1 77h0m3 59h0m5-33h0m2-42h0m3 23h0m4-76h0m2-20h0m3 59h0m1-105h0m1 102h0m1-82h0m5-47h0m5-52h0m9 25h0m2 10h0m1 115h0m1-100h0m1 17h0m5 123h0m2-74h0m1-10h0m2 103h0m2 37h0m1-85h0m2-80h0m3 189h0m1-72h0m1 29h0m1-51h0m9 120h0m3 5h0m1 10h0m3-60h0m3 87h0m7-68h0m1-50h0m2 150h0m6-179h0m3 42h0m2-70h0m1-66h0m5-18h0m2 69h0m4 143h0m5-21h0m5-58h0m4-31h0m1-41h0m2 107h0m7-96h0m1-68h0m2-17h0m1 112h0m1 41h0m6-141h0m2 21h0m1 25h0m13-34h0m2 113h0m3-47h0m1 82h0m2-117h0m2 149h0m1-96h0m1-72h0m1 172h0m1-86h0m2 48h0m3 104h0m1-71h0m4 62h0m1-29h0m1 52h0m1-13h0m4-116h0m3-39h0m6-30h0m3 112h0m6-33h0m3-110h0m2 19h0m1 58h0m6-121h0m2-33h0m2 62h0m3 30h0m3 42h0m3 39h0m4-154h0m3 170h0m3-146h0m3 152h0m3-134h0m4 20h0m3 12h0m1 62h0m2-42h0m1 78h0m1-48h0m2 107h0m4-29h0m5 30h0m6-4h0m5 44h0m4-165h0m3 53h0m2 32h0m1-53h0m2-75h0m1 144h0m1-122h0m6-60h0m3-87h0m1 60h0m1 47h0m4-54h0m2 117h0m2-96h0m6 28h0m5 49h0m1 54h0m1 26h0m1-7h0m4 78h0m1-167h0m3 108h0m2-62h0m1 72h0m2-138h0m4 28h0m2 14h0m1 93h0m8-50h0m1-100h0m6 114h0m2-133h0m1-10h0m5 148h0m1-9h0m1-159h0m2 71h0m1 46h0m1-153h0m3 139h0m1-134h0m4 79h0m2 23h0m3-57h0m2 111h0m3 44h0m6-125h0m6 152h0m2-43h0m3-163h0m4 103h0m4 92h0m1-145h0m2 83h0m4-61h0m3-30h0m1 166h0m3-113h0m3 55h0m3 11h0m4 53h0m2-91h0m4-75h0m1 123h0m8-46h0m3 64h0m2-105h0m7-52h0m1 66h0m2 132h0m2-70h0m6-103h0m5 77h0m7 88h0m1-46h0m4-111h0m6 27h0m3 18h0m1 146h0m2-69h0m2-96h0m5 124h0m1 26h0m1-89h0m6-10h0m6-41h0m1 79h0m7-35h0m2-42h0m2-35h0m2 151h0m1-28h0m3 38h0m10-60h0m3 61h0m2-103h0m2-66h0m9 128h0m1-104h0m1 37h0m3 27h0m1 115h0m6-15h0m1-28h0m2 76h0m11-60h0m2-32h0m2-97h0m3 62h0m2 41h0m1-82h0m4 34h0m1-6h0m2-85h0m1 12h0m3-30h0m1-6h0m1-22h0m1 101h0m8-134h0m1-59h0m1 166h0m8-128h0m1 26h0m7 34h0m2 34h0m1 84h0m1-21h0m4-78h0m2 140h0m1-91h0m2 101h0m1 47h0m1-31h0m1-46h0m1 84h0m1-8h0m14-22h0m3-13h0m2-48h0m2-27h0m1-22h0m1-15h0m6 81h0m2-183h0m1 75h0m2-14h0m1-47h0m2-35h0m2 32h0m2 86h0m3-57h0m1-72h0m2 28h0m2 97h0m3-46h0m2 22h0m1 63h0m1 85h0m1 10h0m3-26h0m1-39h0m3 133h0m2 4h0m1-62h0m3 82h0m3-197h0m1 103h0m2 18h0m4-2h0m1-45h0m2-28h0m1-84h0m3-3h0m3 70h0m1-119h0m1 78h0m1-63h0m2-154h0m6 77h0m3 42h0m1 126h0m4-155h0m4 53h0m2 114h0m1-53h0m3-30h0m2 117h0m1-47h0m2-51h0m1-39h0m4 161h0m1 52h0m5-72h0m4 61h0m1-82h0m1-45h0m2 54h0m7 51h0m7-136h0m2 37h0m3 12h0m1-108h0m4 172h0m3-111h0m1 69h0m3 30h0m3 53h0m5 8h0m6-41h0m4-92h0m5 123h0m1-25h0m1-146h0m1 80h0m1 22h0m2-70h0m6 11h0m5 67h0m13 6h0m1 16h0m1-71h0m3-43h0m1 67h0m4-92h0m13 23h0m1 29h0m10-83h0m1 98h0m2 50h0m1 30h0m4-51h0m2 72h0m3 44h0m2-38h0m4-79h0m1 44h0m3 39h0m1-124h0m2-31h0m1 44h0m1-36h0m1 128h0m1-149h0m3 107h0m2-113h0m13 5h0m2-37h0m3 169h0m1-86h0m2 102h0m1-42h0m1-26h0m4 107h0m4-169h0m8 102h0m1 47h0m6-105h0m4-67h0m2 107h0m1 48h0m1-120h0m3-38h0m7 121h0m9-69h0m2 59h0m1-147h0m1 120h0m1-70h0m4 157h0m1 22h0m2-52h0m2-106h0m6 19h0m2 10h0m5 154h0m5-114h0m5 64h0m2-42h0m5-22h0m4-23h0m1 144h0m4-44h0m1 11h0m5-48h0m9-80h0m2 167h0m3-47h0m1 18h0m1-115h0m1 27h0m8 42h0m1-11h0m3 51h0m3-87h0m2 75h0m1-125h0m1-98h0m1 129h0m1 37h0m2-125h0m1 17h0m3 29h0m11-53h0m5-13h0m1 102h0m5 69h0m2-182h0m2 51h0m3-57h0m1 140h0m1 11h0m4-59h0m14-46h0m4 138h0m2-60h0m3-63h0m1 82h0m2-51h0m4 70h0m2-138h0m2-42h0m5-47h0m1 141h0m3 21h0m7-91h0m3 173h0m1-57h0m1 87h0m1-160h0m1 111h0m5-119h0m6 143h0m2-87h0m3 45h0m1-12h0m5-112h0m2 78h0m1-19h0m2-112h0m2 198h0m4-165h0m3-16h0m1 32h0m1 39h0m10 48h0m2-30h0m2-86h0m1 128h0m2 12h0m2-69h0m1 81h0m3-167h0m3 49h0m6 132h0m3-209h0m8 38h0m1 174h0m3-161h0m1 95h0m1 36h0m2-97h0m1 26h0m1 29h0m5-127h0m1 99h0m2-15h0m1 8h0m1-41h0m1 143h0m5-62h0m3 109h0m1 3h0m2-81h0m1 63h0m8-15h0m4-15h0m3-38h0m2 129h0m4-43h0m3-114h0m2 110h0m7-136h0m5 60h0m3-103h0m2 140h0m1 15h0m4-139h0m1 74h0m1 14h0m6-43h0m8-19h0m2 27h0m2-93h0m1 159h0m3-38h0m4 72h0m3-57h0m3 38h0m2-145h0m3 27h0m2 18h0m3-47h0m2 135h0m1-47h0m10 15h0m1 16h0m2-87h0m1 24h0m8-96h0m1 11h0m1 104h0m6-70h0m7 23h0m3-48h0m7 66h0m2 108h0m1-60h0m1 23h0m4-38h0m3-64h0m1-39h0m6 190h0m2-146h0m1-45h0m1 132h0m1 15h0m4 60h0m3-126h0m5 91h0m3 34h0m3-101h0m3-42h0m3 106h0m2 20h0m1-210h0m2 57h0m1 115h0m2-41h0m2 33h0m1-129h0m1-36h0m5 97h0m12-33h0m3 74h0m1 72h0m4-86h0m5-137h0m1 37h0m1 158h0m1-44h0m5-141h0m1 44h0m1 49h0m2 23h0m2-63h0m2 121h0m1-99h0m11 71h0m1 52h0m5-105h0m6 56h0m1-42h0m2-49h0m5 0h0m3 5h0m6 109h0m1-54h0m5 72h0m4 51h0m4-114h0m1 151h0m1-190h0m2 73h0m1 42h0m2 14h0m8 45h0m3-128h0m6 103h0m3-88h0m1-72h0m1 98h0m1 28h0m3-106h0m9 98h0m1-101h0m1 18h0m1 29h0m1-83h0m1-30h0m2 135h0m1-105h0m6 18h0m1-106h0m3 33h0m6-16h0m3-38h0m1 190h0m5-129h0m4 53h0m2 41h0m2 72h0m2-139h0m1 51h0m1 42h0m4 120h0m3 36h0m1-94h0m2-94h0m1 110h0m4-42h0m1 64h0m3 47h0m2 14h0m7-94h0m5-33h0m1-16h0m1-22h0m2 110h0m6 71h0m2-45h0m1 24h0m1 9h0m2-58h0m4-8h0m1-43h0m2 29h0m4-52h0m3-75h0m1-6h0m3-11h0m1 37h0m5 33h0m1-74h0m1 65h0m2-107h0m2 161h0m15-123h0m3 99h0m4 28h0m1-132h0m2 36h0m1 27h0m7 11h0m3 80h0m1-46h0m1 99h0m4-186h0m1 147h0m4 54h0m5-9h0m2-27h0m3-98h0m6 41h0m1 44h0m8-13h0m1-102h0m2-47h0m2 36h0m1-22h0m1 87h0m4-23h0m1-108h0m1-7h0m2 145h0m5 20h0m1-188h0m2 93h0m8-90h0m2-53h0m2 108h0m4 59h0m3-99h0m1 18h0m5 115h0m1-100h0m2 17h0m1-9h0m2 124h0m3 13h0m7-100h0m6 111h0m1-104h0m1 28h0m2 46h0m3-13h0m4-85h0m7-59h0m3 28h0m7 30h0m2 64h0m3-34h0m3 88h0m2 10h0m1-152h0m2 82h0m4 27h0m11 64h0m5-124h0m4-28h0m1 68h0m2 51h0m2-89h0m2 74h0m18-93h0m2 133h0m3-71h0m1-20h0m4 54h0m4 12h0m3-53h0m7-37h0m3-31h0m1 88h0m9-120h0m3 46h0m4 8h0m1-52h0m1-24h0m3 115h0m5 123h0m1-50h0m1-20h0m1 57h0m5-15h0m1 75h0m1-135h0m2 24h0m1 13h0m1-68h0m5 111h0m2-15h0m2-126h0m1-30h0m1-16h0m4-13h0m3 105h0m1-103h0m6 23h0m1 16h0m7 66h0m3-38h0m13 35h0m4-111h0m1 4h0m2 34h0m2 146h0m6-120h0m1 15h0m1-95h0m4 121h0m6-158h0m6 95h0m2-23h0m4-50h0m5-14h0m1 153h0m1-13h0m6-100h0m2 61h0m1 83h0m1-66h0m2-55h0m2 110h0m7-40h0m2 91h0m3-24h0m4 62h0m2-149h0m3 110h0m4-144h0m3 38h0m1 32h0m3 31h0m1 32h0m4-205h0m1 21h0m1 51h0m3-95h0m2 112h0m1-48h0m4-11h0m7-41h0m1 95h0m1 40h0m6 34h0m3-161h0m7 59h0m2 66h0m5-102h0m2-18h0m4 104h0m2-70h0m1 53h0m2 93h0m1-165h0m1 37h0m2 101h0m3-91h0m1 181h0m1-38h0m2 24h0m1-64h0m8 61h0m1 30h0m1-127h0m3 63h0m2 15h0m3-105h0m3 178h0m3-202h0m3 80h0m5 27h0m2-122h0m3 192h0m1-231h0m1 98h0m2-83h0m1-43h0m13 100h0m1-39h0m4 89h0m9-137h0m8 21h0m3 93h0m4-36h0m3-80h0m2 59h0m5 10h0m5 110h0m3-131h0m3 143h0m1-33h0m1-20h0m5-130h0m2 96h0m2 55h0m2-65h0m2-57h0m3 167h0m4-78h0m7-59h0m2 152h0m1-3h0m5-36h0m1-134h0m1 120h0m3-11h0m4-71h0m2 34h0m5-104h0m7 7h0m2 21h0m1 31h0m2 53h0m8-38h0m5 77h0m1 15h0m1-142h0m2 106h0m1-17h0m2-15h0m1-54h0m12 132h0m6 23h0m2-122h0m4 8h0m1 110h0m3-20h0m1-20h0m1-16h0m4-133h0m3 55h0m1 51h0m1-129h0m5-9h0m3 103h0m1-54h0m1 12h0m3-38h0m6 42h0m1 99h0m6-33h0m3 56h0m4-26h0m4 16h0m2-120h0m3 69h0m1-37h0m4-56h0m3 70h0m2-89h0m3 13h0m3 44h0m3 152h0m1-127h0m1 45h0m5 70h0m2-39h0m2 90h0m6-113h0m1 99h0m1-198h0m3 128h0m3-58h0m2 47h0m1-54h0m2-95h0m1 213h0m4-148h0m6-9h0m4-73h0m7 131h0m6 15h0m1-101h0m1 49h0m4-104h0m4 112h0m2-73h0m8-54h0m1 89h0m7-135h0m3 38h0m4 36h0m1 83h0m2-113h0m1-43h0m2 105h0m4-44h0m2 75h0m2-65h0m1 134h0m1-18h0m5 68h0m4-1h0m5-84h0m1 69h0m1 72h0m2-197h0m12 88h0m1-55h0m3-41h0m1 96h0m4-120h0m6 101h0m1 71h0m2-202h0m1 2h0m1 173h0m6-57h0m1-41h0m5-41h0m1 167h0m8-92h0m1 64h0m1-116h0m1 98h0m10-84h0m3 28h0m2 38h0m4 69h0m8-169h0m2 153h0m1-153h0m4 43h0m3 42h0m4 52h0m1-123h0m1 165h0m4-70h0m3 92h0m1-177h0m2 126h0m1-32h0m4-50h0m10 36h0m5 126h0m3-59h0m4 58h0m1-103h0m1 41h0m4-118h0m1 147h0m1-93h0m1-22h0m1-40h0m5-65h0m1 155h0m2-95h0m1-47h0m1 65h0m1-142h0m1 176h0m5-120h0m1 41h0m7-5h0m2-39h0m8 70h0m2-25h0m1 52h0m1 24h0m2 22h0m5 30h0m1-114h0m1 127h0m5-93h0m2 129h0m1-15h0m4 57h0m10-53h0m1-71h0m2 76h0m1-100h0m3 46h0m5-77h0m2-45h0m3 139h0m1-148h0m4 37h0m7-80h0m1 157h0m2-121h0m1 89h0m5-131h0m1 54h0m1 51h0m3 71h0m5-29h0m1 48h0m3-103h0m1 178h0m1-43h0m5-31h0m2-87h0m6 162h0m4-37h0m4-180h0m1 112h0m1-33h0m9 48h0m4 41h0m3 86h0m1-49h0m2-53h0m2-88h0m2-50h0m2 87h0m2-106h0m1 18h0m2 114h0m4 42h0m2-134h0m3 50h0m8-131h0m1 204h0m8-113h0m1 68h0m1-44h0m1 76h0m6-131h0m2-51h0m4 7h0m1 107h0m2-80h0m7 119h0m4-90h0m3 36h0m1 41h0m2 105h0m2-60h0m2 28h0m1-31h0m3 83h0m5-77h0m6-96h0m3 15h0m2 138h0m6-83h0m1 61h0m1-159h0m1-7h0m1 83h0m5 29h0m1 28h0m2-175h0m9 45h0m3 25h0m5 138h0m2-110h0m3 121h0m1-101h0m1 45h0m3 51h0m4-84h0m5 48h0m1 12h0m2-139h0m1-26h0m3 84h0m3-27h0m2 192h0m3-37h0m6-94h0m1 122h0m3-118h0m1 41h0m6 23h0m1-24h0m1 54h0m6-126h0m3 199h0m6-176h0m1-41h0m1 59h0m1-89h0m4 168h0m5-123h0m2 83h0m5-174h0m10 24h0m2-9h0m1 103h0m1-79h0m1 91h0m1-77h0m1 23h0m2 20h0m1 55h0"/>
<rect x="105.5" y="499" width="1255.5" height="48.6" fill="#f00" fill-opacity="0.1" stroke="#f00" stroke-opacity="0.1" stroke-width="1.39"/>
<rect x="161.99" y="498.9" width="740.91" height="16.9" fill="#ffa500" fill-opacity="0.15"/>
<rect x="901" y="546.1" width="403.5" height="16" fill="#ffa500" fill-opacity="0.15"/>
<line x1="105.5" y1="523" x2="1360.7" y2="523" stroke="#f00" stroke-width="2.083"/>
<line x1="161.99" y1="666.5" x2="161.99" y2="380.5" stroke="#800080" stroke-width="2.083" stroke-dasharray="2.083 3.437"/>
<line x1="161" y1="507.5" x2="902.9" y2="507.5" stroke="#ffa500" stroke-width="2.778"/>
<line x1="901.02" y1="666.5" x2="901.02" y2="380.5" stroke="#800080" stroke-width="2.083" stroke-dasharray="2.083 3.437"/>
<line x1="901" y1="554.5" x2="1305.1" y2="554.5" stroke="#ffa500" stroke-width="2.778"/>
<line x1="1303.05" y1="666.5" x2="1303.05" y2="380.5" stroke="#800080" stroke-width="2.083" stroke-dasharray="2.083 3.437"/>
<path d="M342.5 660.3h5.8l-2.9 5.4z" fill="#ffa500"/>
<path d="M1147.5 660.3h5.8l-2.9 5.4z" fill="#ffa500"/>
</g>
<text x="531" y="656.8" text-anchor="middle" font-size="13.89">4693</text>
<text x="1100.5" y="636.9" text-anchor="middle" font-size="13.89">55562</text>
<rect x="105.5" y="380.5" width="1380" height="286" fill="none" stroke="#000" stroke-width="1.111"/>
<line x1="162.5" y1="666.5" x2="162.5" y2="671.36" stroke="#000" stroke-width="1.111"/><text x="162.5" y="686.5" text-anchor="middle" font-size="13.89">0</text><line x1="459.5" y1="666.5" x2="459.5" y2="671.36" stroke="#000" stroke-width="1.111"/><text x="459.5" y="686.5" text-anchor="middle" font-size="13.89">2000</text><line x1="756.5" y1="666.5" x2="756.5" y2="671.36" stroke="#000" stroke-width="1.111"/><text x="756.5" y="686.5" text-anchor="middle" font-size="13.89">4000</text><line x1="1054.5" y1="666.5" x2="1054.5" y2="671.36" stroke="#000" stroke-width="1.111"/><text x="1054.5" y="686.5" text-anchor="middle" font-size="13.89">6000</text><line x1="1351.5" y1="666.5" x2="1351.5" y2="671.36" stroke="#000" stroke-width="1.111"/><text x="1351.5" y="686.5" text-anchor="middle" font-size="13.89">8000</text>
<line x1="100.64" y1="663.5" x2="105.5" y2="663.5" stroke="#000" stroke-width="1.111"/><text x="95.3" y="668.1" text-anchor="end" font-size="13.89">7.400</text><line x1="100.64" y1="628.5" x2="105.5" y2="628.5" stroke="#000" stroke-width="1.111"/><text x="95.3" y="633.1" text-anchor="end" font-size="13.89">7.425</text><line x1="100.64" y1="592.5" x2="105.5" y2="592.5" stroke="#000" stroke-width="1.111"/><text x="95.3" y="597.1" text-anchor="end" font-size="13.89">7.450</text><line x1="100.64" y1="557.5" x2="105.5" y2="557.5" stroke="#000" stroke-width="1.111"/><text x="95.3" y="562.1" text-anchor="end" font-size="13.89">7.475</text><line x1="100.64" y1="521.5" x2="105.5" y2="521.5" stroke="#000" stroke-width="1.111"/><text x="95.3" y="526.1" text-anchor="end" font-size="13.89">7.500</text><line x1="100.64" y1="486.5" x2="105.5" y2="486.5" stroke="#000" stroke-width="1.111"/><text x="95.3" y="491.1" text-anchor="end" font-size="13.89">7.525</text><line x1="100.64" y1="450.5" x2="105.5" y2="450.5" stroke="#000" stroke-width="1.111"/><text x="95.3" y="455.1" text-anchor="end" font-size="13.89">7.550</text><line x1="100.64" y1="415.5" x2="105.5" y2="415.5" stroke="#000" stroke-width="1.111"/><text x="95.3" y="420.1" text-anchor="end" font-size="13.89">7.575</text>
<rect x="1365.5" y="387.5" width="113" height="48" rx="2.8" fill="#fff" fill-opacity="0.8" stroke="#ccc" stroke-opacity="0.8" stroke-width="1.389"/>
<line x1="1368.9" y1="399.5" x2="1399.9" y2="399.5" stroke="#ffa500" stroke-width="2.778"/>
<text x="1409.7" y="403.6" font-size="13.89">mag<tspan font-size="9.72" font-style="italic" dy="2.0">OBSID</tspan></text>
<line x1="1368.9" y1="422" x2="1399" y2="422" stroke="#f00" stroke-width="2.083"/>
<text x="1408.8" y="426.8" font-size="13.89">mag</text>
<rect x="1348.5" y="613.5" width="130" height="46" rx="2.8" fill="#fff" fill-opacity="0.8" stroke="#ccc" stroke-opacity="0.8" stroke-width="1.389"/>
<circle cx="1367.5" cy="626.5" r="1.9" fill="#ffa500"/>
<text x="1392.5" y="630.5" font-size="13.89">Highlighted</text>
<circle cx="1367.5" cy="647.5" r="1.9" fill="#000"/>
<text x="1392.5" y="651.5" font-size="13.89">OK</text>
<line x1="105.5" y1="921.5" x2="1485.5" y2="921.5" stroke="#b0b0b0" stroke-width="1.111" stroke-dasharray="1.111 1.833"/>
<line x1="105.5" y1="889.5" x2="1485.5" y2="889.5" stroke="#b0b0b0" stroke-width="1.111" stroke-dasharray="1.111 1.833"/>
<line x1="105.5" y1="856.5" x2="1485.5" y2="856.5" stroke="#b0b0b0" stroke-width="1.111" stroke-dasharray="1.111 1.833"/>
<line x1="105.5" y1="823.5" x2="1485.5" y2="823.5" stroke="#b0b0b0" stroke-width="1.111" stroke-dasharray="1.111 1.833"/>
<line x1="105.5" y1="790.5" x2="1485.5" y2="790.5" stroke="#b0b0b0" stroke-width="1.111" stroke-dasharray="1.111 1.833"/>
<line x1="105.5" y1="758.5" x2="1485.5" y2="758.5" stroke="#b0b0b0" stroke-width="1.111" stroke-dasharray="1.111 1.833"/>
<g clip-path="url(#c3)">
<circle cx="345.4" cy="889.5" r="1.3" fill="#000"/>
<circle cx="345.4" cy="856.5" r="1.3" fill="#000"/>
<circle cx="1099.5" cy="889.5" r="1.3" fill="#000"/>
<circle cx="1099.5" cy="856.5" r="1.3" fill="#000"/>
<line x1="161.99" y1="954.5" x2="161.99" y2="725.5" stroke="#800080" stroke-width="2.083" stroke-dasharray="2.083 3.437"/><line x1="901.02" y1="954.5" x2="901.02" y2="725.5" stroke="#800080" stroke-width="2.083" stroke-dasharray="2.083 3.437"/><line x1="1303.05" y1="954.5" x2="1303.05" y2="725.5" stroke="#800080" stroke-width="2.083" stroke-dasharray="2.083 3.437"/>
</g>
<rect x="105.5" y="725.5" width="1380" height="229" fill="none" stroke="#000" stroke-width="1.111"/>
<line x1="100.64" y1="921.5" x2="105.5" y2="921.5" stroke="#000" stroke-width="1.111"/>
<text x="95.5" y="926.4" text-anchor="end" font-size="13.89">OBS not OK</text>
<line x1="100.64" y1="889.5" x2="105.5" y2="889.5" stroke="#000" stroke-width="1.111"/>
<text x="95.5" y="894.4" text-anchor="end" font-size="13.89">dr &gt; 5</text>
<line x1="100.64" y1="856.5" x2="105.5" y2="856.5" stroke="#000" stroke-width="1.111"/>
<text x="95.5" y="861.4" text-anchor="end" font-size="13.89">Ion. rad.</text>
<line x1="100.64" y1="823.5" x2="105.5" y2="823.5" stroke="#000" stroke-width="1.111"/>
<text x="95.5" y="828.4" text-anchor="end" font-size="13.89">Sat. pixel.</text>
<line x1="100.64" y1="790.5" x2="105.5" y2="790.5" stroke="#000" stroke-width="1.111"/>
<text x="95.5" y="795.4" text-anchor="end" font-size="13.89">not track</text>
<line x1="100.64" y1="758.5" x2="105.5" y2="758.5" stroke="#000" stroke-width="1.111"/>
<text x="95.5" y="763.4" text-anchor="end" font-size="13.89">not Kalman</text>
<line x1="105.5" y1="1009.5" x2="1485.5" y2="1009.5" stroke="#b0b0b0" stroke-width="1.111" stroke-dasharray="1.111 1.833"/>
<line x1="105.5" y1="983.5" x2="1485.5" y2="983.5" stroke="#b0b0b0" stroke-width="1.111" stroke-dasharray="1.111 1.833"/>
<line x1="105.5" y1="957.5" x2="1485.5" y2="957.5" stroke="#b0b0b0" stroke-width="1.111" stroke-dasharray="1.111 1.833"/>
<g clip-path="url(#c4)">
<path transform="scale(.1)" fill="none" stroke="#000" stroke-width="30.0" stroke-linecap="round" d="M1625 10079h0m1-1h0m10 1h0m2-6h0m13 7h0m4-1h0m7 5h0m6-9h0m9 10h0m10 0h0m4-4h0m1 3h0m7-8h0m5 3h0m8-4h0m9 7h0m7-7h0m6 10h0m8-7h0m11 7h0m8-9h0m6 7h0m4-1h0m7-5h0m4 2h0m12-5h0m2 5h0m8-1h0m4-5h0m5 6h0m10 2h0m3-7h0m12 0h0m5 9h0m14-1h0m1-7h0m10 3h0m8-1h0m3 3h0m12 1h0m3-3h0m10-1h0m5 9h0m5-7h0m8 6h0m6-3h0m4 3h0m12-6h0m2 3h0m3-4h0m16 7h0m3-7h0m10 1h0m10 7h0m4-9h0m12 7h0m1-6h0m6 0h0m12-1h0m4 7h0m9-7h0m3 6h0m4-4h0m9-1h0m1 4h0m7 3h0m2-7h0m4 4h0m7-6h0m3 5h0m4-4h0m6 5h0m2-3h0m10 2h0m3-6h0m2 6h0m6 1h0m8-4h0m4 5h0m6-4h0m10 3h0m2-5h0m5 0h0m7 6h0m7 0h0m5-2h0m2-6h0m13 3h0m12 4h0m1-5h0m2 6h0m11-2h0m4-4h0m8 6h0m6 1h0m2-2h0m11 0h0m4-7h0m11 1h0m4 7h0m12-6h0m13 6h0m3-8h0m3 6h0m8-7h0m10 0h0m5 8h0m6-6h0m2 6h0m9 2h0m7-10h0m8 8h0m4-4h0m6 6h0m11-8h0m9-2h0m3 6h0m4-5h0m7 6h0m12-2h0m3-6h0m13 7h0m2-2h0m6 5h0m3-4h0m8 5h0m3-7h0m10 0h0m4 6h0m12-6h0m2 5h0m8-8h0m14 7h0m4-3h0m6 4h0m4 0h0m2-4h0m7-3h0m9 3h0m3-3h0m4 7h0m4-5h0m5 5h0m8-4h0m6 5h0m5-5h0m11 1h0m4 8h0m5-9h0m5 7h0m5-8h0m8 4h0m9-4h0m13 9h0m3-8h0m11-1h0m5 5h0m9-4h0m4 4h0m9-3h0m1 7h0m12-7h0m2 5h0m8-9h0m16 6h0m5-6h0m4 6h0m6 2h0m6-1h0m5-5h0m9 5h0m7-4h0m6 7h0m3 0h0m9-13h0m7 1h0m8 10h0m12-2h0m1-2h0m6-1h0m2 5h0m10-6h0m4 6h0m7-5h0m3 5h0m10-7h0m6 7h0m4-5h0m7 4h0m8 0h0m2-3h0m3 2h0m5-4h0m10 0h0m3 6h0m9-1h0m5-7h0m3 5h0m8-6h0m11 9h0m9-5h0m3 3h0m4 1h0m6-6h0m10 6h0m7-1h0m1-4h0m4 1h0m6 4h0m9 0h0m1-3h0m10-4h0m3 8h0m11 0h0m5-5h0m15 8h0m9-9h0m14 5h0m4-8h0m16 7h0m6-4h0m5 4h0m8-5h0m2 6h0m8-1h0m1-3h0m12 1h0m11-3h0m4 4h0m5-1h0m2 3h0m12-1h0m5 1h0m2-4h0m9 5h0m6-8h0m2 9h0m12-8h0m12-1h0m1 5h0m9 1h0m6-7h0m4 4h0m10 1h0m1-3h0m9 6h0m5-4h0m4 4h0m6-4h0m5 4h0m2 0h0m10-8h0m9 9h0m3-1h0m5-8h0m9 5h0m6-5h0m9 0h0m6 10h0m2 1h0m8 0h0m8-7h0m2 5h0m2-4h0m9 2h0m1-4h0m12 2h0m6 5h0m6 0h0m4-9h0m8 6h0m6-7h0m9 5h0m6-3h0m7 9h0m6-6h0m5 0h0m9 3h0m1-5h0m14-2h0m6 7h0m4 0h0m13-8h0m10 9h0m9-5h0m5 5h0m6 0h0m1-7h0m9 2h0m6 3h0m7-5h0m9 7h0m2-4h0m14 5h0m2-6h0m3 7h0m10 0h0m2 0h0m6-8h0m7 1h0m3 6h0m6-6h0m5 3h0m5 0h0m2-4h0m7-3h0m16 10h0m7-9h0m10 5h0m8-2h0m5 4h0m6 0h0m1-5h0m9 5h0m3-7h0m5 0h0m3 7h0m8-8h0m10 1h0m3 7h0m9-8h0m7 7h0m4 1h0m2-5h0m10 6h0m6-3h0m5-5h0m12-3h0m7 11h0m6-5h0m4 4h0m6-4h0m6 4h0m11-7h0m2 7h0m14-4h0m2 5h0m3 0h0m7-7h0m8-2h0m3 5h0m15 6h0m5-11h0m6 4h0m4-3h0m7 1h0m3 4h0m9-1h0m4 5h0m8-7h0m7 6h0m9-8h0m7 0h0m10 7h0m4-4h0m2 5h0m6-2h0m7-4h0m6-1h0m7 8h0m13-11h0m6-1h0m3 6h0m10 2h0m2-5h0m7-1h0m9 6h0m4-2h0m7 6h0m3-6h0m7 0h0m10 4h0m5-3h0m5 3h0m4-4h0m4 3h0m4-2h0m1 2h0m3-2h0m5 3h0m3-4h0m7 4h0m3-6h0m4 3h0m5-3h0m12 4h0m5-6h0m4 4h0m4 0h0m6-3h0m1 4h0m6-2h0m9 5h0m5-4h0m6 4h0m5-3h0m9 4h0m11 2h0m4-1h0m1-7h0m12 1h0m4 4h0m4 1h0m8-6h0m5-2h0m5 0h0m1 6h0m6 1h0m5 0h0m7-6h0m6 8h0m3-8h0m9 2h0m9 9h0m8-9h0m10 1h0m8-5h0m5 9h0m3-1h0m11-9h0m1 7h0m6-8h0m7 6h0m6-3h0m6 6h0m2-6h0m3 7h0m13-7h0m1 4h0m3-4h0m3 1h0m11 5h0m5-4h0m5 8h0m8-8h0m7 7h0m16-9h0m3 0h0m6 8h0m10 0h0m4-8h0m6 6h0m2-7h0m8 9h0m14-1h0m4-5h0m9 4h0m3-3h0m7 0h0m5 0h0m12 1h0m5-6h0m8 0h0m5 9h0m5 1h0m7-9h0m5 7h0m3-6h0m15 8h0m4-6h0m11 6h0m6-5h0m6 3h0m4-3h0m6 4h0m3-4h0m10 0h0m1 5h0m8-5h0m4 0h0m6 6h0m11-3h0m5-7h0m8 1h0m4 7h0m15-6h0m10 9h0m9-11h0m15 5h0m4 4h0m8-7h0m1 5h0m14-2h0m11-3h0m2 5h0m9-4h0m7 7h0m7 0h0m4-5h0m10 3h0m6-6h0m14 3h0m3 4h0m6-4h0m4 0h0m10 5h0m6-9h0m8 6h0m4-7h0m10 0h0m5 5h0m6-6h0m9 7h0m3-2h0m7 3h0m4-2h0m6-1h0m1 6h0m4-1h0m10-5h0m6 5h0m8-6h0m8 5h0m8-4h0m4 0h0m4 6h0m11-2h0m2 3h0m9-2h0m3-7h0m10-1h0m4 5h0m14-6h0m5 8h0m8-6h0m4 6h0m3 0h0m8-4h0m1 4h0m11-10h0m10 10h0m1-6h0m13 8h0m9-7h0m13 4h0m2 0h0m2-4h0m10 6h0m2-8h0m5 3h0m9 6h0m9-8h0m6 7h0m13-12h0m2 11h0m11-7h0m1 4h0m12-5h0m7 2h0m1 8h0m5 1h0m9 0h0m9-7h0m6 9h0m10-3h0m5-6h0m5 1h0m8 6h0m7-7h0m7 8h0m6-8h0m12 6h0m6-8h0m8 6h0m6-3h0m4 0h0m2 5h0m9-7h0m5 7h0m5-5h0m7 0h0m3 8h0m11-9h0m6 0h0m2 7h0m14-3h0m2-7h0m2 0h0m9 6h0m1-6h0m5 0h0m5 6h0m7 1h0m6-5h0m15 7h0m7-10h0m11 9h0m12-8h0m3 8h0m9-5h0m3 4h0m8-5h0m9 3h0m1-6h0m9 10h0m15-4h0m1 2h0m7 0h0m2-6h0m4-1h0m7-1h0m8 7h0m1-5h0m10 7h0m11-8h0m9 8h0m10-6h0m8 0h0m3 8h0m13-4h0m4-6h0m6 0h0m11 7h0m2-4h0m11 1h0m2 6h0m11-9h0m4 9h0m12-7h0m8 5h0m11-3h0m1-6h0m9 2h0m9 6h0m7-4h0m2 6h0m4-6h0m7 7h0m7-9h0m6 1h0m4 7h0m11-7h0m8-2h0m1 8h0m14-5h0m1-4h0m5 4h0m9 1h0m4-4h0m6 6h0m4-7h0m5 2h0m3 7h0m7 0h0m11-3h0m3 2h0m5 0h0m5-4h0m9-3h0m1 3h0m14 5h0m3-5h0m5-2h0m8 6h0m7 0h0m7 0h0m3-4h0m7-3h0m9 2h0m3 3h0m6 3h0m5-6h0m13 1h0m2 6h0m8 1h0m1-4h0m6 7h0m9-8h0m6 5h0m2-8h0m8 0h0m8 7h0m10 0h0m8-8h0m5 8h0m11-7h0m7 4h0m4-3h0m7 6h0m3-5h0m9-1h0m3 4h0m8-4h0m3 5h0m11-8h0m5 7h0m8 3h0m9-11h0m12 5h0m7 5h0m1-6h0m9 0h0m2 5h0m4-4h0m6 4h0m10-4h0m5 7h0m5-1h0m10-7h0m3 0h0m9 6h0m5-7h0m4 4h0m8-3h0m8 1h0m5 3h0m5-5h0m4 5h0m3-7h0m14 6h0m2-6h0m10 8h0m1-5h0m9 4h0m1-4h0m13 4h0m3-6h0m7 7h0m2-7h0m17-1h0m3 7h0m13 2h0m3-5h0m7 1h0m8 7h0m5 0h0m3-6h0m8-5h0m11 8h0m4-6h0m9-1h0m9 0h0m1 4h0m8 3h0m1-3h0m3 4h0m6-3h0m14-4h0m1 5h0m4 1h0m8-8h0m4 5h0m13-5h0m1 5h0m8-6h0m3 5h0m7-6h0m10 10h0m2-9h0m12 0h0m2 5h0m5-5h0m4 0h0m5 0h0m7 4h0m5-5h0m8 5h0m6-3h0m7 6h0m4-4h0m7 1h0m10-4h0m3 5h0m6 2h0m5-5h0m5 5h0m4-4h0m11 8h0m13-9h0m1 4h0m6 1h0m5-9h0m12 9h0m3-4h0m2 5h0m13 2h0m1-7h0m11-2h0m4 9h0m8-7h0m4 4h0m6-7h0m5 8h0m6-5h0m4 5h0m6-5h0m3 0h0m4 6h0m4 1h0m4-7h0m9 0h0m8 7h0m4-7h0m9 4h0m5-7h0m9 5h0m1-5h0m16 4h0m7-7h0m6 7h0m1-7h0m14 9h0m3-7h0m6 4h0m2-5h0m9 6h0m4-4h0m12 2h0m6 9h0m12-4h0m2-4h0m9-3h0m11 7h0m1-4h0m4 4h0m2-3h0m6 0h0m2 2h0m7 2h0m4-7h0m9 6h0m11-7h0m3 7h0m8-9h0m9 10h0m1-4h0m12 1h0m2-5h0m5 0h0m9-1h0m2 5h0m11-5h0m8 7h0m8-2h0m2 4h0m3-5h0m6 7h0m10-8h0m10 7h0m6-8h0m14 2h0m2 7h0m9 0h0m10-7h0m9 5h0m4-8h0m13 0h0m1 8h0m9-7h0m13 10h0m9-8h0m6 0h0m1 4h0m11 1h0m1-6h0m11 5h0m9-8h0m11 7h0m7 0h0m3-6h0m9 6h0m7-8h0m3 6h0m9-5h0m5 6h0m9-7h0m10 9h0m2-6h0m4 7h0m9-5h0m9 5h0m2-6h0m11 6h0m3-4h0m12 4h0m1-3h0m7 3h0m4-2h0m5-4h0m10 1h0m10 4h0m3-5h0m8 5h0m9-6h0m8 3h0m6-3h0m10 6h0m6-5h0m16 1h0m3 5h0m11-7h0m5 7h0m5-5h0m8 4h0m7-4h0m4 4h0m8-4h0m7 6h0m5-7h0m10 5h0m6-7h0m3 0h0m4 4h0m8-5h0m8 9h0m11-5h0m4 4h0m13 3h0m2-6h0m5 6h0m8-1h0m4-7h0m8 4h0m8-2h0m3-3h0m7 2h0m7 0h0m5-3h0m6 3h0m6-3h0m4 0h0m3 4h0m7-4h0m10 8h0m2-5h0m4 4h0m4-3h0m6-1h0m4 4h0m4-3h0m7 4h0m4-6h0m5 9h0m2-1h0m8-6h0m6-6h0m7 6h0m15 3h0m5-7h0m2 0h0m6 7h0m10-5h0m2 4h0m13-6h0m2 7h0m9-7h0m7 7h0m12-6h0m9 13h0m16-8h0m1-2h0m6-3h0m1 5h0m9-6h0m1 4h0m8-4h0m7 4h0m1-4h0m10 7h0m6 0h0m3-7h0m12 7h0m5-4h0m5 5h0m6-1h0m2-6h0m13 5h0m5-5h0m4 5h0m6 2h0m1-4h0m15 6h0m3-8h0m10-2h0m6-2h0m4 10h0m7-1h0m7-7h0m1 6h0m4-6h0m7-1h0m8 1h0m4 6h0m3-5h0m5 5h0m14-4h0m2 2h0m2-4h0m7 6h0m6-5h0m10 3h0m1-6h0m9 9h0m3 1h0m1-6h0m15 6h0m1-7h0m9-1h0m10 0h0m1 8h0m10-6h0m4 7h0m9-6h0m6 0h0m3-6h0m7 7h0m8 3h0m6-7h0m4 2h0m9 9h0m3-7h0m4 0h0m4 4h0m2-4h0m3 0h0m7 5h0m13-13h0m11 10h0m3-7h0m4 6h0m11-4h0m10 8h0m9-6h0m7 5h0m3-2h0m6 4h0m12-7h0m5 5h0m4-5h0m1 3h0m12-3h0m7-1h0m7 8h0m11 0h0m2-7h0m7 6h0m7-4h0m1-3h0m5-2h0m11 3h0m3 5h0m11 0h0m3-6h0m9 6h0m3-4h0m7 4h0m9-7h0m2 4h0m10-1h0m8-1h0m3-6h0m8 10h0m3-5h0m5 6h0m18-9h0m3 8h0m11-8h0m8 2h0m10 9h0m6-7h0m11 5h0m10-3h0m3 3h0m9-8h0m14 7h0m3-5h0m11 4h0m6-6h0m5 6h0m6-2h0m10-5h0m3 5h0m8-4h0m9 7h0m5 1h0m7-9h0m8 0h0m4 2h0m7 7h0m9 0h0m6-6h0m11 6h0m3-7h0m7 6h0m5-1h0m6 0h0m7 3h0m5-3h0m12 3h0m7-7h0m6 6h0m12 2h0m3-5h0m8 0h0m4 7h0m6-2h0m8-8h0m11-1h0m6 6h0m2-4h0m9 8h0m9-3h0m5-4h0m7-1h0m8 2h0m1-2h0m9 5h0m3-5h0m8 3h0m2-3h0m10 4h0m8-8h0m8-1h0m6 8h0m4 0h0m3 0h0m7-3h0m1 3h0m10 1h0m2-5h0m8 4h0m3-2h0m5 4h0m3-1h0m6-5h0m8 1h0m6 1h0m6-1h0m3-3h0m6 3h0m8 0h0m7 6h0m10-8h0m3 4h0m8-7h0m5 6h0m2-5h0m7 8h0m3 0h0m9-6h0m3 6h0m6-8h0m3 0h0m12 9h0m6-5h0m4 5h0m7-5h0m9 4h0m4-4h0m4 4h0m6 0h0m5-7h0m7 7h0m7-5h0m9 8h0m3-7h0m4 0h0m1 6h0m11-2h0m1-4h0m8 0h0m4 4h0m9 0h0m2-4h0m14 0h0m3 4h0m2-4h0m7 4h0m8-5h0m9 2h0m2-4h0m3-1h0m11 1h0m4 8h0m4-8h0m9 4h0m6-6h0m4-1h0m10 8h0m1-3h0m9 4h0m3-2h0m2 3h0m4-4h0m4 3h0m6 1h0m9-4h0m2 0h0m1 8h0m13-9h0m3 6h0m6-5h0m3 4h0m9-7h0m8 2h0m2 5h0m9 0h0m7-5h0m3 5h0m10-5h0m7 5h0m3-3h0m6 4h0m6-9h0m8 9h0m8-6h0m9 1h0m2 2h0m9-3h0m3 6h0m8 2h0m7-8h0m9 5h0m7-5h0m8 6h0m2-4h0m14 8h0m10-8h0m2 1h0m8-5h0m10 7h0m11-6h0m13 7h0m9-11h0m15 6h0m2 4h0m11-5h0m4 7h0m15-7h0m7 8h0m7 0h0m3-6h0m7 3h0m14 1h0m6-8h0m3 0h0m10 3h0m9 6h0m3-6h0m13 4h0m12-4h0m1 4h0m4-3h0m8-1h0m6 6h0m13-7h0m5 7h0m6-9h0m8-2h0m8 9h0m11-4h0m3 5h0m3-5h0m7 4h0m4-5h0m8 1h0m2 4h0m4 0h0m7-6h0m7 8h0m6-5h0m4 2h0m8-4h0m2 5h0m9-2h0m3-5h0m7 3h0m9 5h0m7-7h0m7 7h0m3-5h0m6 8h0m13-10h0m5 8h0m5-5h0m9 2h0m1-3h0m7 4h0m3-4h0m5 4h0m11-1h0m5-7h0m5 8h0m2-5h0m8 4h0m6 0h0m8-3h0m3 5h0m3-6h0m6 2h0m6 0h0m3 4h0m6-7h0m5 4h0m8-8h0m10 7h0m1-5h0m11 0h0m4 8h0m7 1h0m8-6h0m3 4h0m7 0h0m8-5h0m4 6h0m9-5h0m3 5h0m14-4h0m2-4h0m11 0h0m6 9h0m3 0h0m8-5h0m7 5h0m5-7h0m7 8h0m9-6h0m8 0h0m1 6h0m10-7h0m6 2h0m2-3h0m8-1h0m5 8h0m16-5h0m7 4h0m4-6h0m9 4h0m5-6h0m7 4h0m1-4h0m8 3h0m4 5h0m2 0h0m9 0h0m7-4h0m5 4h0m2-5h0m2 6h0m11-8h0m5 8h0m6 0h0m6-5h0m4 1h0m5 4h0m11-1h0m3 0h0m5-4h0m10 0h0m9 4h0m7 2h0m4-9h0m14 3h0m10 1h0m4 4h0m3-5h0m12-3h0m7 7h0m4-3h0m4 4h0m2-4h0m10-1h0m6 6h0m5 0h0m6-8h0m8-2h0m3 0h0m3 6h0m17-5h0m6 8h0m4-6h0m7 1h0m2 4h0m7-4h0m7 0h0m10 0h0m5 5h0m2-5h0m10 6h0m2-6h0m13 0h0m5 9h0m9-8h0m6 6h0m4-8h0m11 6h0m5-6h0m10 1h0m1 8h0m7-9h0m10 7h0m5-9h0m8 0h0m9 8h0m8-5h0m2 3h0m2-4h0m8 7h0m13-9h0m2 0h0m4 3h0m3-2h0m7 3h0m7-4h0m1 4h0m10-4h0m2 7h0m6 2h0m11-8h0m5 6h0m7-4h0m2 3h0m5-4h0m5 5h0m9-5h0m4 5h0m4-4h0m3 4h0m7-4h0m5 1h0m5 4h0m11-1h0m6-5h0m11 1h0m4 0h0m10 0h0m3-8h0m3 8h0m8 0h0m1-4h0m9 5h0m5-5h0m6 8h0m4 0h0m9-4h0m1 4h0m6-7h0m10 0h0m3 4h0m4-5h0m10 5h0m1-6h0m8 10h0m9-9h0m3 8h0m10 1h0m4-6h0m13-2h0m4 8h0m8 1h0m3-6h0m8 0h0m5 5h0m5-4h0m2 3h0m9-1h0m6 4h0m7-7h0m10 4h0m3-5h0m12 5h0m1-4h0m8 3h0m7-4h0m1 5h0m10-6h0m1 6h0m12-3h0m4 8h0m9-9h0m1 4h0m6-3h0m12-1h0m3 1h0m4-2h0m6 6h0m9-5h0m4 5h0m8 0h0m1-5h0m6 1h0m4 3h0m1-4h0m4 4h0m11-8h0m12 9h0m9 0h0m1-8h0m7-2h0m11 14h0m4-6h0m8 4h0m6-7h0m4 8h0m13-7h0m3 4h0m7-5h0m7 0h0m4 7h0m5-1h0m1-5h0m9-1h0m6 6h0m4-5h0m9-1h0m6 6h0m5 1h0m3-1h0m12-9h0m1 0h0m5-1h0m7 9h0m8-5h0m2 7h0m11-7h0m3 3h0m11-4h0m4 5h0m9 2h0m1-6h0m14 0h0m5 7h0m5 1h0m6-9h0m2 8h0m15-11h0m4 1h0m3 7h0m14 3h0m8-6h0m11 3h0m3-3h0m5-1h0m9 6h0m7-6h0m5 6h0m5-7h0m9 1h0m5 1h0m4 4h0m11-4h0m4 3h0m1-3h0m4 0h0m2 5h0m5-7h0m13 3h0m1-6h0m9 10h0m1-7h0m9 8h0m6-9h0m14 5h0m3-7h0m11 1h0m4 0h0m1 5h0m10 0h0m3-6h0m2 0h0m10 5h0m3-4h0m7 6h0m8-6h0m13 3h0m4 7h0m9-1h0m3-5h0m9 2h0m4-5h0m5-1h0m3 7h0m6-5h0m7 8h0m4-7h0m3 0h0m11 0h0m2 4h0m13-8h0m1 4h0m2-5h0m8 8h0m9-2h0m1 3h0m3-4h0m7 1h0m4 4h0m3-5h0m11 5h0m8-1h0m1-8h0m7 6h0m15-5h0m2 5h0m6 2h0m12-5h0m4 2h0m12 0h0m3-4h0m14 8h0m1-7h0m15 8h0m4-6h0m14-4h0m10 10h0m6-5h0m7-1h0m1 5h0m5-3h0m3-4h0m7-3h0m6 6h0m5-7h0m6 10h0m6-4h0m6 4h0m7-4h0m8 3h0m2-2h0m7-1h0m3-1h0m13 6h0m2-6h0m10 2h0m6 6h0m7-8h0m8 8h0m10-11h0m1 0h0m8 9h0m11-1h0m4-7h0m6 6h0m7-7h0m9-1h0m3 8h0m5 1h0m12-4h0m6 4h0m4-6h0m5 2h0m4 5h0m11-5h0m2-1h0m8 8h0m4 0h0m10-6h0m2 3h0m7 0h0m9-6h0m12 4h0m1-5h0m4 7h0m9-1h0m5-3h0m4 1h0m14 1h0m2-4h0m1 5h0m12 1h0m4-4h0m9 0h0m8 5h0m3-7h0m9-1h0m4 5h0m7-5h0m6 3h0m4-2h0m11 5h0m1-4h0m6 5h0m6-3h0m3 3h0m6-1h0m1-4h0m13 7h0m1-8h0m11 7h0m9-6h0m7 5h0m7-5h0m3 1h0m5 8h0m9-4h0m8-1h0m2 4h0m6-1h0m7-7h0m7 0h0m5 7h0m4-5h0m13-3h0m2 7h0m14 0h0m8-4h0m1 3h0m8-4h0m5 6h0m12-8h0m4 8h0m3-9h0m11 3h0m3 4h0m7-4h0m9 5h0m7-4h0m2 4h0m7-5h0m1 4h0m19-7h0m4 7h0m2 0h0m8-1h0m4-3h0m17 4h0m1-7h0m8 0h0m5 0h0m5 5h0m12-5h0m7 7h0m1-4h0m10 2h0m7 9h0m10-12h0m2 1h0m4 4h0m7 1h0m6-7h0m4-1h0m10 3h0m5 4h0m6-5h0m8 5h0m8-7h0m1 0h0m4 8h0m13-5h0m1 4h0m3-4h0m8 4h0m3-4h0m6 0h0m2 5h0m9-6h0m5 6h0m10-9h0m5 5h0m3-5h0m11 1h0m4 2h0m2 5h0m8 0h0m6-4h0m5 5h0m11-5h0m5 4h0m2-5h0m8 1h0m1 4h0m7 1h0m4-6h0m11 8h0m2-7h0m8-1h0m6 10h0m10-9h0m8 0h0m2 4h0m11-5h0m2 8h0m13-7h0m1 0h0m3 3h0m13-5h0m3 6h0m7-8h0m6 2h0m6 8h0m8-1h0m6-6h0m7 4h0m4-2h0m4 4h0m4-5h0m6 5h0m1-3h0"/>
<circle cx="1027.3" cy="1003.3" r="1.4" fill="#000"/>
<circle cx="1150.3" cy="994.4" r="1.4" fill="#000"/>
<circle cx="254" cy="1004" r="1.4" fill="#000"/>
<circle cx="418" cy="1004" r="1.4" fill="#000"/>
<circle cx="1106.5" cy="1004.2" r="1.4" fill="#000"/>
<circle cx="1109" cy="1005.2" r="1.4" fill="#000"/>
<circle cx="1118.5" cy="1003.8" r="1.4" fill="#000"/>
<circle cx="1121" cy="1005.2" r="1.4" fill="#000"/>
<path d="M343.3 959.4l2.1 -4.1l2.1 4.1z" fill="#f00"/>
<path d="M1097.4 959.4l2.1 -4.1l2.1 4.1z" fill="#f00"/>
<line x1="161.99" y1="1011.5" x2="161.99" y2="954.5" stroke="#800080" stroke-width="2.083" stroke-dasharray="2.083 3.437"/><line x1="901.02" y1="1011.5" x2="901.02" y2="954.5" stroke="#800080" stroke-width="2.083" stroke-dasharray="2.083 3.437"/><line x1="1303.05" y1="1011.5" x2="1303.05" y2="954.5" stroke="#800080" stroke-width="2.083" stroke-dasharray="2.083 3.437"/>
</g>
<rect x="105.5" y="954.5" width="1380" height="57" fill="none" stroke="#000" stroke-width="1.111"/>
<line x1="162.5" y1="1011.5" x2="162.5" y2="1016.36" stroke="#000" stroke-width="1.111"/><text x="162.5" y="1031.5" text-anchor="middle" font-size="13.89">0</text><line x1="459.5" y1="1011.5" x2="459.5" y2="1016.36" stroke="#000" stroke-width="1.111"/><text x="459.5" y="1031.5" text-anchor="middle" font-size="13.89">2000</text><line x1="756.5" y1="1011.5" x2="756.5" y2="1016.36" stroke="#000" stroke-width="1.111"/><text x="756.5" y="1031.5" text-anchor="middle" font-size="13.89">4000</text><line x1="1054.5" y1="1011.5" x2="1054.5" y2="1016.36" stroke="#000" stroke-width="1.111"/><text x="1054.5" y="1031.5" text-anchor="middle" font-size="13.89">6000</text><line x1="1351.5" y1="1011.5" x2="1351.5" y2="1016.36" stroke="#000" stroke-width="1.111"/><text x="1351.5" y="1031.5" text-anchor="middle" font-size="13.89">8000</text>
<line x1="100.64" y1="1009.5" x2="105.5" y2="1009.5" stroke="#000" stroke-width="1.111"/>
<text x="96.9" y="1014.1" text-anchor="end" font-size="13.89">0</text>
<line x1="100.64" y1="983.5" x2="105.5" y2="983.5" stroke="#000" stroke-width="1.111"/>
<text x="95.6" y="988.1" text-anchor="end" font-size="13.89">5</text>
<line x1="100.64" y1="957.5" x2="105.5" y2="957.5" stroke="#000" stroke-width="1.111"/>
<text x="95.3" y="962.1" text-anchor="end" font-size="13.89">10</text>
<line x1="102.72" y1="996.5" x2="105.5" y2="996.5" stroke="#000" stroke-width="0.833"/>
<line x1="102.72" y1="970.5" x2="105.5" y2="970.5" stroke="#000" stroke-width="0.833"/>
<text transform="translate(68.8 984) rotate(-90)" text-anchor="middle" font-size="13.89">dr</text>
</svg></body></html>
